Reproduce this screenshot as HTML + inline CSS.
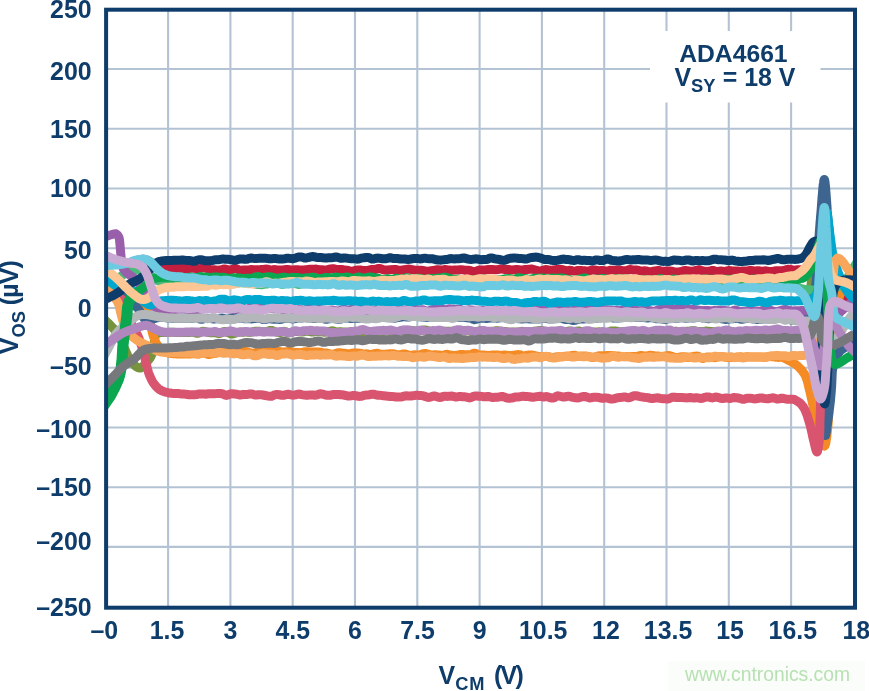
<!DOCTYPE html>
<html lang="en"><head><meta charset="utf-8"><title>ADA4661 VOS vs VCM</title>
<style>html,body{margin:0;padding:0;background:#fff}body{width:869px;height:691px;overflow:hidden}svg{display:block}</style></head>
<body>
<svg width="869" height="691" viewBox="0 0 869 691">
<rect x="0" y="0" width="869" height="691" fill="#ffffff"/>
<rect x="668" y="661" width="197" height="30" fill="#fbfdfa"/>
<path d="M168.10 9.7V607.7M230.40 9.7V607.7M292.70 9.7V607.7M355.00 9.7V607.7M417.30 9.7V607.7M479.60 9.7V607.7M541.90 9.7V607.7M604.20 9.7V607.7M666.50 9.7V607.7M728.80 9.7V607.7M791.10 9.7V607.7M106.1 69.00H855.0M106.1 128.74H855.0M106.1 188.48H855.0M106.1 248.22H855.0M106.1 307.96H855.0M106.1 367.70H855.0M106.1 427.44H855.0M106.1 487.18H855.0M106.1 546.92H855.0" fill="none" stroke="#b4c3d3" stroke-width="2.1"/>
<rect x="650" y="31" width="170.5" height="71.5" fill="#ffffff"/>
<defs><clipPath id="cp"><rect x="106.1" y="9.7" width="748.9" height="598.0"/></clipPath></defs>
<g clip-path="url(#cp)" fill="none" stroke-linecap="round" stroke-linejoin="round">
<path d="M104.0 255.5L106.2 256.4L108.4 257.4L110.6 258.3L112.8 259.2L115.0 260.0L117.3 260.7L119.8 261.5L122.2 262.1L124.5 262.6L126.6 262.8L128.9 262.8L131.1 262.5L133.0 262.0L135.1 261.2L137.0 260.3L139.0 259.8L141.0 259.5L143.0 259.3L145.0 259.5L147.5 260.3L150.0 261.7L151.5 263.0L152.9 264.6L154.4 266.0L156.1 267.2L157.8 268.3L160.0 269.0L161.7 269.2L163.7 269.3L165.9 269.2L168.2 268.9L170.5 268.7L172.8 268.5L175.0 268.3L176.5 268.4L178.0 268.2L179.5 268.2L181.0 268.3L182.5 268.4L184.0 268.6L185.5 268.7L187.0 268.6L188.5 268.5L190.0 268.3L191.5 268.2L193.0 268.1L194.5 268.4L196.0 268.6L197.5 268.7L199.0 268.6L200.5 268.4L202.0 268.1L203.5 268.0L205.0 268.1L206.5 268.4L208.0 268.8L209.5 269.4L211.0 269.8L212.5 269.8L214.0 269.8L215.5 270.0L217.0 270.2L218.5 270.2L220.0 269.9L221.5 269.7L223.0 269.2L224.5 268.9L226.0 269.1L227.5 269.7L229.0 270.0L230.5 269.9L232.0 269.4L233.5 268.9L235.0 268.6L236.5 268.8L238.0 269.5L239.5 270.1L241.0 270.3L242.5 270.1L244.0 270.0L245.5 269.9L247.0 270.0L248.5 269.9L250.0 269.7L251.5 269.6L253.0 269.7L254.5 269.7L256.0 269.7L257.5 269.8L259.0 269.8L260.5 269.6L262.0 269.5L263.5 269.4L265.0 269.2L266.5 269.1L268.0 269.3L269.5 269.7L271.0 269.9L272.5 269.8L274.0 269.6L275.5 269.7L277.0 270.0L278.5 270.1L280.0 270.0L281.5 270.1L283.0 270.0L284.5 269.8L286.0 269.5L287.5 269.5L289.0 269.7L290.5 270.0L292.0 270.1L293.5 269.9L295.0 269.7L296.5 269.7L298.0 269.8L299.5 269.9L301.0 269.9L302.5 269.9L304.0 269.9L305.5 269.8L307.0 269.7L308.5 269.4L310.0 269.2L311.5 269.3L313.0 269.3L314.5 269.2L316.0 269.1L317.5 269.4L319.0 269.7L320.5 269.8L322.0 269.7L323.5 269.9L325.0 270.0L326.5 270.0L328.0 269.6L329.5 269.2L331.0 268.9L332.5 268.7L334.0 268.8L335.5 269.2L337.0 269.5L338.5 269.6L340.0 269.5L341.5 269.5L343.0 269.8L344.5 269.9L346.0 270.1L347.5 270.3L349.0 270.7L350.5 271.2L352.0 271.3L353.5 270.9L355.0 270.4L356.5 270.1L358.0 269.9L359.5 270.0L361.0 270.1L362.5 270.4L364.0 270.5L365.5 270.5L367.0 270.4L368.5 270.2L370.0 269.8L371.5 269.5L373.0 269.5L374.5 269.6L376.0 269.3L377.5 268.7L379.0 268.4L380.5 268.7L382.0 269.3L383.5 269.9L385.0 270.1L386.5 270.0L388.0 269.9L389.5 269.8L391.0 269.7L392.5 269.6L394.0 269.4L395.5 269.4L397.0 269.8L398.5 270.2L400.0 270.3L401.5 270.2L403.0 269.9L404.5 269.6L406.0 269.4L407.5 269.2L409.0 269.1L410.5 269.3L412.0 269.6L413.5 269.9L415.0 270.2L416.5 270.3L418.0 270.2L419.5 270.2L421.0 270.2L422.5 270.4L424.0 270.7L425.5 271.0L427.0 271.2L428.5 271.2L430.0 270.9L431.5 270.6L433.0 270.4L434.5 270.2L436.0 269.9L437.5 269.7L439.0 269.8L440.5 270.1L442.0 270.1L443.5 269.8L445.0 269.5L446.5 269.7L448.0 269.9L449.5 270.0L451.0 270.2L452.5 270.2L454.0 270.1L455.5 270.1L457.0 270.1L458.5 270.0L460.0 269.8L461.5 269.7L463.0 269.9L464.5 270.2L466.0 270.3L467.5 270.2L469.0 270.3L470.5 270.7L472.0 271.3L473.5 271.5L475.0 271.4L476.5 271.0L478.0 270.5L479.5 270.0L481.0 270.0L482.5 270.0L484.0 270.0L485.5 269.9L487.0 269.7L488.5 269.5L490.0 269.4L491.5 269.6L493.0 269.6L494.5 269.7L496.0 269.8L497.5 269.6L499.0 269.3L500.5 269.0L502.0 269.0L503.5 269.2L505.0 269.5L506.5 269.5L508.0 269.5L509.5 269.6L511.0 269.9L512.5 270.0L514.0 269.8L515.5 269.6L517.0 269.5L518.5 269.7L520.0 270.0L521.5 270.1L523.0 269.9L524.5 269.5L526.0 269.4L527.5 269.5L529.0 269.3L530.5 269.1L532.0 269.1L533.5 269.5L535.0 269.9L536.5 270.4L538.0 270.7L539.5 270.9L541.0 270.8L542.5 270.4L544.0 269.9L545.5 269.6L547.0 269.7L548.5 270.0L550.0 270.2L551.5 270.2L553.0 270.1L554.5 269.8L556.0 269.6L557.5 269.5L559.0 269.5L560.5 269.4L562.0 269.5L563.5 269.9L565.0 270.4L566.5 270.8L568.0 270.7L569.5 270.3L571.0 270.4L572.5 270.8L574.0 271.1L575.5 270.9L577.0 270.6L578.5 270.5L580.0 270.6L581.5 270.6L583.0 270.7L584.5 270.8L586.0 271.0L587.5 271.2L589.0 271.0L590.5 270.4L592.0 270.1L593.5 270.0L595.0 270.0L596.5 270.3L598.0 270.6L599.5 270.7L601.0 270.6L602.5 270.6L604.0 270.7L605.5 271.0L607.0 271.1L608.5 270.8L610.0 270.3L611.5 270.2L613.0 270.3L614.5 270.4L616.0 270.1L617.5 269.9L619.0 270.0L620.5 270.3L622.0 270.6L623.5 270.7L625.0 270.7L626.5 270.6L628.0 270.1L629.5 269.6L631.0 269.6L632.5 269.9L634.0 270.0L635.5 269.9L637.0 270.0L638.5 270.4L640.0 270.8L641.5 270.9L643.0 270.9L644.5 270.8L646.0 270.9L647.5 271.3L649.0 271.7L650.5 271.7L652.0 271.5L653.5 271.2L655.0 270.9L656.5 270.7L658.0 270.5L659.5 270.6L661.0 271.0L662.5 271.3L664.0 271.3L665.5 271.2L667.0 270.9L668.5 270.9L670.0 271.0L671.5 271.2L673.0 271.5L674.5 271.9L676.0 272.0L677.5 272.0L679.0 272.0L680.5 271.7L682.0 271.2L683.5 270.7L685.0 270.6L686.5 270.6L688.0 270.8L689.5 271.1L691.0 271.2L692.5 271.2L694.0 271.0L695.5 270.6L697.0 270.1L698.5 269.8L700.0 269.9L701.5 270.4L703.0 271.0L704.5 271.3L706.0 271.3L707.5 271.4L709.0 271.2L710.5 270.8L712.0 270.5L713.5 270.6L715.0 271.1L716.5 271.5L718.0 271.5L719.5 271.2L721.0 271.0L722.5 271.2L724.0 271.4L725.5 271.3L727.0 270.9L728.5 270.5L730.0 270.6L731.5 270.8L733.0 270.9L734.5 271.0L736.0 271.0L737.5 271.1L739.0 271.2L740.5 271.2L742.0 271.1L743.5 271.0L745.0 271.1L746.5 271.2L748.0 270.9L749.5 270.4L751.0 270.3L752.5 270.6L754.0 270.9L755.5 270.9L757.0 270.8L758.5 270.7L760.0 271.0L761.5 271.3L763.0 271.2L764.5 270.9L766.0 270.8L767.5 271.1L769.0 271.4L770.5 271.4L772.0 271.4L773.5 271.3L775.0 271.0L776.5 270.7L778.0 270.7L779.5 270.7L781.0 270.7L782.5 270.7L784.0 270.4L785.5 269.9L787.0 269.5L788.5 269.3L790.0 269.4L791.5 269.7L793.0 270.1L794.5 270.2L796.0 270.0L797.5 269.8L799.0 269.7L800.5 269.7L802.0 269.9L803.5 270.2L805.0 270.1L806.5 270.0L808.0 270.0L810.0 270.0L812.0 269.5L814.1 268.8L816.2 268.2L818.1 267.8L820.0 268.0L821.8 268.7L823.4 269.9L825.0 271.5L826.5 273.2L828.0 275.0L829.1 276.6L830.1 278.4L831.1 280.4L832.1 282.4L833.0 284.5L834.0 286.5L835.0 288.3L836.0 290.0L837.3 291.9L838.5 293.6L839.8 295.2L841.3 296.6L843.0 298.0L844.5 299.0L846.3 299.8L848.1 300.6L850.1 301.3L852.1 301.9L854.1 302.6L856.1 303.3L858.0 304.0" stroke="#c41e3e" stroke-width="9.0"/>
<path d="M104.0 319.0L105.6 320.6L107.3 322.2L108.9 323.8L110.5 325.4L112.0 327.0L113.6 328.7L115.1 330.3L116.6 332.0L118.0 334.0L118.9 335.6L119.8 337.4L120.7 339.2L121.5 341.2L122.3 343.1L123.2 345.1L124.0 347.0L124.8 348.9L125.7 350.9L126.5 352.8L127.3 354.8L128.2 356.7L129.0 358.4L130.0 360.0L131.4 362.0L132.9 363.8L134.5 365.3L136.0 366.5L138.3 367.7L140.5 368.0L142.4 366.9L144.2 365.0L146.0 363.0L147.4 361.5L148.7 359.9L149.9 358.3L151.0 356.5L151.9 354.5L152.5 352.4L153.0 350.2L153.5 348.0L153.8 345.9L154.1 343.8L154.3 341.8L154.5 340.0L154.8 337.8L155.3 336.0L156.2 334.5L157.5 333.3L159.2 332.8L161.4 332.6L164.0 332.5L165.6 332.4L167.4 332.4L169.4 332.3L171.5 332.3L173.7 332.3L176.0 332.4L178.3 332.4L180.6 332.4L182.8 332.4L185.0 332.4L186.5 332.4L188.0 332.4L189.5 332.4L191.0 332.3L192.5 332.3L194.0 332.5L195.5 332.9L197.0 333.3L198.5 333.2L200.0 332.5L201.5 331.7L203.0 331.3L204.5 331.4L206.0 331.8L207.5 332.3L209.0 332.6L210.5 332.8L212.0 332.8L213.5 332.7L215.0 332.6L216.5 332.9L218.0 333.4L219.5 333.6L221.0 333.1L222.5 332.2L224.0 331.4L225.5 331.4L227.0 331.9L228.5 332.8L230.0 333.5L231.5 333.9L233.0 333.9L234.5 333.5L236.0 332.9L237.5 332.4L239.0 332.1L240.5 332.1L242.0 332.2L243.5 332.2L245.0 332.0L246.5 332.0L248.0 332.2L249.5 332.4L251.0 332.2L252.5 331.8L254.0 331.5L255.5 331.3L257.0 331.2L258.5 331.2L260.0 331.3L261.5 331.6L263.0 331.8L264.5 331.8L266.0 331.7L267.5 331.4L269.0 330.8L270.5 330.4L272.0 330.5L273.5 331.1L275.0 331.7L276.5 332.1L278.0 332.4L279.5 332.6L281.0 332.5L282.5 331.8L284.0 331.3L285.5 331.6L287.0 332.6L288.5 333.1L290.0 332.7L291.5 332.1L293.0 331.7L294.5 331.6L296.0 331.4L297.5 331.5L299.0 331.8L300.5 332.0L302.0 332.1L303.5 331.8L305.0 331.4L306.5 331.1L308.0 331.3L309.5 331.6L311.0 331.9L312.5 332.0L314.0 331.9L315.5 331.6L317.0 331.5L318.5 331.4L320.0 331.5L321.5 331.8L323.0 332.1L324.5 332.2L326.0 332.1L327.5 331.8L329.0 331.6L330.5 331.2L332.0 330.8L333.5 330.9L335.0 331.4L336.5 331.9L338.0 332.0L339.5 331.8L341.0 331.7L342.5 331.9L344.0 331.9L345.5 331.9L347.0 332.2L348.5 332.3L350.0 332.0L351.5 331.5L353.0 331.4L354.5 331.6L356.0 331.9L357.5 331.9L359.0 331.7L360.5 331.8L362.0 332.2L363.5 332.4L365.0 332.1L366.5 331.7L368.0 331.6L369.5 331.8L371.0 331.9L372.5 332.0L374.0 332.1L375.5 332.3L377.0 332.5L378.5 332.4L380.0 332.2L381.5 332.0L383.0 331.8L384.5 331.4L386.0 331.0L387.5 330.9L389.0 331.3L390.5 332.1L392.0 332.5L393.5 332.2L395.0 331.7L396.5 331.6L398.0 331.6L399.5 331.4L401.0 331.1L402.5 330.7L404.0 330.3L405.5 330.3L407.0 330.3L408.5 330.5L410.0 330.6L411.5 330.6L413.0 330.6L414.5 330.8L416.0 331.1L417.5 331.1L419.0 331.0L420.5 330.8L422.0 330.3L423.5 329.9L425.0 329.9L426.5 330.2L428.0 330.7L429.5 331.1L431.0 331.4L432.5 331.6L434.0 331.7L435.5 331.8L437.0 331.8L438.5 331.7L440.0 331.5L441.5 331.4L443.0 331.4L444.5 331.3L446.0 331.2L447.5 331.2L449.0 331.2L450.5 331.3L452.0 331.4L453.5 331.4L455.0 331.5L456.5 331.5L458.0 331.5L459.5 331.4L461.0 331.3L462.5 330.9L464.0 330.7L465.5 330.6L467.0 330.7L468.5 330.8L470.0 331.2L471.5 331.6L473.0 331.9L474.5 331.7L476.0 331.6L477.5 331.3L479.0 331.0L480.5 330.6L482.0 330.5L483.5 330.9L485.0 331.5L486.5 331.9L488.0 331.8L489.5 331.5L491.0 331.4L492.5 331.3L494.0 331.1L495.5 330.8L497.0 330.6L498.5 330.8L500.0 331.1L501.5 331.4L503.0 331.4L504.5 331.5L506.0 331.6L507.5 331.9L509.0 332.2L510.5 332.3L512.0 332.1L513.5 331.9L515.0 332.0L516.5 332.0L518.0 332.0L519.5 331.9L521.0 331.5L522.5 331.3L524.0 331.6L525.5 332.0L527.0 332.3L528.5 332.3L530.0 332.1L531.5 331.9L533.0 331.5L534.5 331.1L536.0 330.9L537.5 330.8L539.0 330.6L540.5 330.5L542.0 330.6L543.5 330.9L545.0 331.1L546.5 331.3L548.0 331.6L549.5 331.9L551.0 332.1L552.5 331.9L554.0 331.6L555.5 331.3L557.0 331.1L558.5 331.4L560.0 331.9L561.5 332.1L563.0 332.1L564.5 331.9L566.0 331.6L567.5 331.3L569.0 331.0L570.5 331.1L572.0 331.4L573.5 331.6L575.0 331.5L576.5 331.2L578.0 331.0L579.5 331.1L581.0 331.8L582.5 332.5L584.0 332.4L585.5 331.9L587.0 331.6L588.5 331.6L590.0 331.8L591.5 331.9L593.0 331.9L594.5 331.9L596.0 332.0L597.5 331.9L599.0 331.8L600.5 331.9L602.0 332.2L603.5 332.4L605.0 332.6L606.5 332.7L608.0 332.3L609.5 331.6L611.0 331.0L612.5 331.0L614.0 331.1L615.5 331.1L617.0 331.2L618.5 331.6L620.0 332.0L621.5 331.9L623.0 331.5L624.5 331.6L626.0 331.9L627.5 332.0L629.0 331.6L630.5 331.4L632.0 331.5L633.5 331.4L635.0 331.4L636.5 331.3L638.0 331.2L639.5 331.4L641.0 331.6L642.5 331.8L644.0 331.8L645.5 331.8L647.0 332.1L648.5 332.4L650.0 332.4L651.5 332.1L653.0 331.8L654.5 331.8L656.0 331.8L657.5 331.8L659.0 332.0L660.5 332.3L662.0 332.3L663.5 331.9L665.0 331.5L666.5 331.1L668.0 330.7L669.5 330.5L671.0 330.9L672.5 331.4L674.0 331.4L675.5 331.2L677.0 331.3L678.5 331.6L680.0 331.6L681.5 331.6L683.0 331.7L684.5 331.6L686.0 331.3L687.5 331.2L689.0 331.2L690.5 331.0L692.0 330.8L693.5 330.6L695.0 330.8L696.5 331.3L698.0 331.6L699.5 331.5L701.0 331.6L702.5 331.7L704.0 331.4L705.5 331.1L707.0 331.1L708.5 331.3L710.0 331.5L711.5 331.5L713.0 331.7L714.5 331.7L716.0 331.5L717.5 331.2L719.0 331.3L720.5 331.7L722.0 331.8L723.5 331.7L725.0 331.6L726.5 331.7L728.0 331.6L729.5 331.3L731.0 331.3L732.5 331.6L734.0 332.0L735.5 332.5L737.0 332.8L738.5 332.7L740.0 332.6L741.5 332.8L743.0 333.0L744.5 333.0L746.0 332.7L747.5 332.4L749.0 332.1L750.5 332.0L752.0 331.9L753.5 331.6L755.0 331.3L756.5 331.3L758.0 331.4L759.5 331.3L761.0 331.3L762.5 331.5L764.0 331.6L765.5 331.7L767.0 331.8L768.5 331.8L770.0 331.7L771.5 331.9L773.0 332.6L774.5 333.3L776.0 333.7L777.5 333.8L779.0 333.7L780.5 333.7L782.0 334.0L783.5 334.5L785.0 334.8L786.5 334.9L788.0 334.8L789.5 335.0L791.0 335.6L792.5 336.1L794.0 336.4L795.5 336.6L797.0 336.8L798.5 337.0L800.0 338.0L800.9 336.2L801.8 334.4L802.7 332.6L803.7 330.8L804.5 329.0L805.3 327.0L806.0 325.0L806.5 323.2L806.9 321.3L807.3 319.4L807.6 317.4L807.8 315.3L808.1 313.2L808.3 311.2L808.5 309.1L808.8 307.0L809.0 305.0L809.2 303.0L809.5 301.0L809.6 299.0L809.8 296.9L810.0 294.9L810.2 292.9L810.4 290.9L810.6 288.9L810.8 286.9L811.0 285.0L811.3 282.8L811.6 280.7L811.9 278.5L812.2 276.4L812.5 274.3L812.8 272.2L813.1 270.1L813.5 268.0L813.8 266.0L814.2 263.9L814.5 261.8L814.9 259.7L815.3 257.6L815.7 255.6L816.1 253.6L816.5 251.8L817.0 250.0L817.7 247.5L818.5 244.8L819.3 242.4L820.2 240.7L821.0 240.0L821.8 240.7L822.6 242.4L823.5 244.7L824.3 247.4L825.0 250.0L825.4 251.7L825.9 253.4L826.3 255.3L826.7 257.3L827.0 259.4L827.4 261.5L827.7 263.6L828.0 265.7L828.4 267.8L828.7 269.9L829.0 272.0L829.3 274.1L829.6 276.3L829.8 278.6L830.0 280.8L830.2 283.1L830.4 285.4L830.6 287.5L830.9 289.6L831.2 291.6L831.6 293.4L832.0 295.0L832.8 297.5L833.6 299.6L834.6 301.5L836.0 303.0L837.9 304.1L840.1 304.8L842.5 305.4L845.0 306.0L847.0 306.6L849.2 307.3L851.3 308.0L853.6 308.7L855.8 309.3L858.0 310.0" stroke="#78933e" stroke-width="9.0"/>
<path d="M104.0 269.5L105.6 270.7L107.3 271.9L109.0 273.1L110.7 274.2L112.3 275.4L114.0 276.6L115.5 277.8L117.0 279.0L118.6 280.4L120.2 281.8L121.6 283.2L123.1 284.7L124.5 286.1L126.0 287.5L127.5 288.9L129.0 290.4L130.6 291.9L132.1 293.3L133.6 294.7L135.0 296.0L136.9 297.6L138.7 299.0L140.4 300.5L142.0 302.0L143.7 304.0L145.2 306.1L146.5 308.5L147.3 310.4L147.9 312.6L148.5 314.9L149.0 317.3L149.5 319.7L150.0 322.0L150.5 324.2L151.0 326.4L151.4 328.7L151.9 330.8L152.4 333.0L153.0 335.0L153.7 337.1L154.4 339.1L155.2 341.0L156.1 342.8L157.0 344.5L158.5 346.8L160.1 348.8L162.0 350.5L163.7 351.5L165.6 352.2L167.7 352.8L170.0 353.3L171.6 353.5L173.4 353.7L175.3 353.8L177.3 353.9L179.4 353.9L181.6 353.9L183.7 353.9L185.9 353.9L188.0 353.9L190.0 354.0L191.5 353.8L193.0 353.8L194.5 353.8L196.0 353.9L197.5 354.2L199.0 354.0L200.5 353.5L202.0 352.9L203.5 352.6L205.0 353.0L206.5 353.8L208.0 354.5L209.5 354.5L211.0 354.1L212.5 353.7L214.0 353.4L215.5 353.3L217.0 353.0L218.5 352.6L220.0 352.2L221.5 352.4L223.0 352.6L224.5 352.6L226.0 352.6L227.5 352.3L229.0 352.0L230.5 351.9L232.0 351.7L233.5 351.5L235.0 351.4L236.5 351.3L238.0 351.2L239.5 351.0L241.0 351.0L242.5 351.0L244.0 351.0L245.5 351.2L247.0 351.6L248.5 352.3L250.0 352.7L251.5 353.1L253.0 353.3L254.5 353.0L256.0 352.5L257.5 352.3L259.0 352.4L260.5 352.6L262.0 352.4L263.5 351.9L265.0 351.3L266.5 351.0L268.0 350.9L269.5 351.0L271.0 351.2L272.5 351.5L274.0 351.6L275.5 351.5L277.0 351.3L278.5 351.3L280.0 351.7L281.5 352.1L283.0 352.1L284.5 351.9L286.0 351.8L287.5 351.7L289.0 351.4L290.5 351.5L292.0 352.0L293.5 352.5L295.0 352.5L296.5 352.4L298.0 352.5L299.5 352.7L301.0 352.6L302.5 352.3L304.0 352.0L305.5 351.7L307.0 351.7L308.5 351.8L310.0 352.0L311.5 352.1L313.0 352.0L314.5 352.0L316.0 352.0L317.5 352.0L319.0 351.9L320.5 352.1L322.0 352.6L323.5 352.9L325.0 353.0L326.5 353.0L328.0 353.3L329.5 353.8L331.0 354.3L332.5 354.6L334.0 354.2L335.5 353.5L337.0 353.0L338.5 352.8L340.0 352.8L341.5 353.0L343.0 353.2L344.5 353.3L346.0 353.5L347.5 353.8L349.0 353.8L350.5 353.6L352.0 353.2L353.5 353.0L355.0 353.0L356.5 353.0L358.0 353.1L359.5 353.2L361.0 353.4L362.5 353.8L364.0 354.1L365.5 354.0L367.0 353.8L368.5 354.1L370.0 354.6L371.5 354.5L373.0 354.1L374.5 353.6L376.0 353.3L377.5 353.3L379.0 353.8L380.5 354.3L382.0 354.3L383.5 354.2L385.0 354.2L386.5 354.1L388.0 353.9L389.5 353.8L391.0 353.7L392.5 353.7L394.0 353.9L395.5 354.3L397.0 354.8L398.5 354.9L400.0 354.6L401.5 354.3L403.0 354.0L404.5 353.9L406.0 354.2L407.5 354.7L409.0 355.3L410.5 355.4L412.0 355.2L413.5 354.9L415.0 354.8L416.5 354.9L418.0 355.1L419.5 355.1L421.0 354.6L422.5 353.9L424.0 353.5L425.5 353.5L427.0 353.8L428.5 354.3L430.0 354.8L431.5 355.1L433.0 355.0L434.5 354.8L436.0 354.8L437.5 354.9L439.0 355.0L440.5 355.2L442.0 355.4L443.5 355.2L445.0 354.7L446.5 354.3L448.0 354.5L449.5 354.9L451.0 355.2L452.5 355.3L454.0 355.4L455.5 355.3L457.0 355.1L458.5 354.9L460.0 354.5L461.5 354.4L463.0 354.5L464.5 354.8L466.0 354.8L467.5 354.8L469.0 354.8L470.5 354.6L472.0 354.0L473.5 353.3L475.0 353.2L476.5 353.9L478.0 354.8L479.5 355.2L481.0 355.0L482.5 354.9L484.0 355.0L485.5 355.3L487.0 355.5L488.5 355.6L490.0 355.6L491.5 355.2L493.0 354.9L494.5 354.9L496.0 354.9L497.5 354.9L499.0 355.1L500.5 355.4L502.0 355.3L503.5 355.1L505.0 355.0L506.5 355.3L508.0 355.5L509.5 355.5L511.0 355.4L512.5 355.3L514.0 355.1L515.5 354.9L517.0 354.7L518.5 354.6L520.0 354.8L521.5 355.4L523.0 355.9L524.5 355.8L526.0 355.5L527.5 355.2L529.0 355.0L530.5 354.9L532.0 355.0L533.5 355.3L535.0 355.7L536.5 356.0L538.0 356.3L539.5 356.6L541.0 356.8L542.5 356.8L544.0 356.6L545.5 356.4L547.0 356.5L548.5 356.7L550.0 357.1L551.5 357.3L553.0 357.4L554.5 357.3L556.0 357.0L557.5 356.7L559.0 356.7L560.5 356.7L562.0 356.7L563.5 356.5L565.0 356.3L566.5 356.1L568.0 356.1L569.5 356.0L571.0 355.8L572.5 355.4L574.0 355.2L575.5 355.5L577.0 355.9L578.5 356.2L580.0 356.1L581.5 356.0L583.0 356.1L584.5 356.0L586.0 356.0L587.5 356.3L589.0 356.7L590.5 357.1L592.0 357.5L593.5 357.5L595.0 357.1L596.5 356.5L598.0 356.0L599.5 355.8L601.0 355.7L602.5 355.8L604.0 355.8L605.5 355.7L607.0 355.5L608.5 355.4L610.0 355.4L611.5 355.6L613.0 355.7L614.5 355.8L616.0 355.9L617.5 356.0L619.0 356.1L620.5 356.3L622.0 356.6L623.5 356.8L625.0 356.7L626.5 356.5L628.0 356.6L629.5 356.7L631.0 356.6L632.5 356.6L634.0 356.6L635.5 356.6L637.0 356.4L638.5 355.9L640.0 355.6L641.5 355.5L643.0 355.8L644.5 356.0L646.0 356.1L647.5 355.8L649.0 355.5L650.5 355.2L652.0 355.4L653.5 355.7L655.0 356.0L656.5 356.1L658.0 356.1L659.5 356.2L661.0 356.4L662.5 356.5L664.0 356.2L665.5 355.9L667.0 355.7L668.5 355.6L670.0 355.7L671.5 356.2L673.0 356.9L674.5 357.2L676.0 357.4L677.5 357.4L679.0 357.3L680.5 357.0L682.0 356.8L683.5 356.8L685.0 357.0L686.5 357.3L688.0 357.6L689.5 357.6L691.0 357.1L692.5 356.6L694.0 356.3L695.5 356.2L697.0 356.1L698.5 356.3L700.0 357.2L701.5 358.2L703.0 358.5L704.5 357.9L706.0 357.1L707.5 356.9L709.0 357.0L710.5 357.1L712.0 357.4L713.5 357.6L715.0 357.7L716.5 357.4L718.0 357.0L719.5 356.7L721.0 356.6L722.5 356.8L724.0 357.0L725.5 357.2L727.0 357.4L728.5 357.5L730.0 357.6L731.5 357.6L733.0 357.5L734.5 357.4L736.0 357.2L737.5 357.0L739.0 356.9L740.5 356.8L742.0 357.0L743.5 357.2L745.0 357.0L746.5 356.7L748.0 356.7L749.5 356.9L751.0 357.1L752.5 357.1L754.0 356.9L755.5 356.9L757.0 357.0L758.5 357.1L760.0 357.1L761.5 357.1L763.0 357.0L764.5 357.0L766.0 357.0L767.5 356.8L769.0 356.5L770.5 356.5L772.0 356.7L773.5 356.8L775.0 357.0L776.5 357.2L778.0 357.4L779.5 357.3L781.0 357.2L783.0 357.5L785.0 358.5L786.9 359.4L789.0 360.5L791.0 361.6L793.0 362.7L795.0 364.0L797.0 365.5L798.4 366.8L799.9 368.2L801.3 369.8L802.7 371.4L803.9 373.2L805.0 375.0L805.9 376.9L806.6 378.9L807.3 381.0L807.9 383.2L808.4 385.4L808.9 387.7L809.5 390.0L810.0 391.9L810.4 393.8L810.9 395.8L811.3 397.8L811.8 399.8L812.2 401.9L812.6 403.9L813.1 406.0L813.5 408.0L814.0 410.0L814.5 412.0L815.0 414.0L815.4 416.1L815.9 418.1L816.4 420.2L816.9 422.2L817.4 424.2L817.9 426.2L818.5 428.1L819.0 430.0L819.7 432.3L820.4 434.9L821.1 437.6L821.8 440.2L822.6 442.5L823.3 444.3L823.9 445.6L824.5 446.0L825.0 445.5L825.4 444.4L825.9 442.6L826.2 440.4L826.6 437.8L826.9 435.2L827.2 432.5L827.5 430.0L827.7 428.3L827.9 426.5L828.0 424.6L828.2 422.7L828.3 420.7L828.4 418.7L828.5 416.6L828.6 414.4L828.7 412.3L828.8 410.1L828.9 407.9L829.0 405.7L829.1 403.5L829.2 401.4L829.3 399.2L829.4 397.1L829.5 395.0L829.6 392.9L829.8 390.8L829.9 388.7L830.1 386.6L830.2 384.5L830.4 382.4L830.5 380.3L830.7 378.2L830.8 376.1L831.0 374.0L831.1 371.9L831.3 369.9L831.4 367.8L831.6 365.8L831.7 363.8L831.9 361.9L832.0 360.0L832.2 357.8L832.3 355.6L832.5 353.5L832.6 351.4L832.8 349.3L833.0 347.3L833.1 345.3L833.3 343.2L833.4 341.2L833.6 339.2L833.8 337.1L834.0 335.0L834.2 332.9L834.4 330.8L834.6 328.7L834.8 326.5L835.0 324.3L835.2 322.1L835.4 320.0L835.6 317.8L835.9 315.7L836.1 313.7L836.4 311.7L836.7 309.8L837.0 308.0L837.4 305.5L837.9 303.1L838.3 300.7L838.8 298.4L839.4 296.4L840.1 294.5L841.0 293.0L842.7 291.1L844.7 289.8L847.0 289.0L848.9 288.9L851.1 289.2L853.4 289.8L855.7 290.5L858.0 291.0" stroke="#f58b24" stroke-width="9.0"/>
<path d="M104.0 287.0L106.0 287.8L108.1 288.6L110.2 289.4L112.2 290.3L114.2 291.1L116.0 292.0L118.2 293.2L120.2 294.4L122.1 295.7L124.0 297.0L125.8 298.4L127.5 300.0L129.3 301.5L131.0 303.0L132.8 304.3L134.6 305.6L136.4 307.0L138.0 308.5L139.4 310.5L140.6 312.8L141.8 315.1L143.0 317.0L144.9 319.2L147.0 320.5L149.4 320.2L152.0 319.3L153.9 318.8L155.8 318.2L157.9 317.6L160.0 317.3L162.3 317.3L164.5 317.5L166.9 317.9L169.5 318.1L171.5 318.2L173.7 318.2L175.9 318.3L178.2 318.3L180.5 318.3L182.8 318.3L185.0 318.3L186.5 318.3L188.0 318.2L189.5 318.3L191.0 318.4L192.5 318.4L194.0 318.0L195.5 317.7L197.0 317.8L198.5 318.4L200.0 319.1L201.5 319.3L203.0 319.0L204.5 318.7L206.0 318.4L207.5 318.3L209.0 318.3L210.5 318.6L212.0 318.8L213.5 319.0L215.0 318.9L216.5 318.7L218.0 318.5L219.5 318.3L221.0 318.1L222.5 318.1L224.0 318.4L225.5 318.9L227.0 319.0L228.5 318.8L230.0 318.4L231.5 318.0L233.0 317.6L234.5 317.5L236.0 317.6L237.5 318.0L239.0 318.2L240.5 318.1L242.0 318.1L243.5 318.5L245.0 318.8L246.5 318.7L248.0 318.6L249.5 318.7L251.0 318.9L252.5 318.8L254.0 318.5L255.5 318.4L257.0 318.3L258.5 318.2L260.0 318.3L261.5 318.9L263.0 319.5L264.5 319.6L266.0 319.3L267.5 318.9L269.0 318.7L270.5 318.8L272.0 319.1L273.5 319.3L275.0 319.3L276.5 319.2L278.0 319.4L279.5 319.6L281.0 319.3L282.5 318.9L284.0 318.6L285.5 318.4L287.0 318.2L288.5 318.2L290.0 318.4L291.5 318.8L293.0 318.9L294.5 318.7L296.0 318.3L297.5 317.9L299.0 317.8L300.5 317.9L302.0 318.0L303.5 317.7L305.0 317.3L306.5 317.3L308.0 317.6L309.5 317.9L311.0 318.2L312.5 318.4L314.0 318.4L315.5 318.3L317.0 318.4L318.5 318.3L320.0 318.1L321.5 318.1L323.0 318.5L324.5 319.0L326.0 319.3L327.5 319.2L329.0 318.9L330.5 318.4L332.0 318.2L333.5 318.3L335.0 318.7L336.5 319.1L338.0 319.4L339.5 319.3L341.0 319.0L342.5 318.7L344.0 318.3L345.5 318.0L347.0 317.9L348.5 318.1L350.0 318.4L351.5 318.5L353.0 318.3L354.5 318.1L356.0 318.2L357.5 318.3L359.0 318.2L360.5 318.0L362.0 317.7L363.5 317.5L365.0 317.2L366.5 317.3L368.0 317.4L369.5 317.5L371.0 317.3L372.5 316.9L374.0 316.5L375.5 316.4L377.0 316.8L378.5 317.4L380.0 317.5L381.5 317.1L383.0 316.8L384.5 316.8L386.0 317.0L387.5 317.3L389.0 317.5L390.5 317.6L392.0 317.8L393.5 318.1L395.0 318.2L396.5 317.9L398.0 317.5L399.5 317.4L401.0 317.2L402.5 316.8L404.0 316.6L405.5 316.8L407.0 317.1L408.5 317.1L410.0 316.8L411.5 316.6L413.0 316.6L414.5 316.5L416.0 316.4L417.5 316.5L419.0 316.7L420.5 316.9L422.0 317.1L423.5 317.1L425.0 317.3L426.5 317.4L428.0 317.3L429.5 317.1L431.0 317.0L432.5 317.0L434.0 317.1L435.5 317.4L437.0 317.5L438.5 317.5L440.0 317.6L441.5 317.6L443.0 317.6L444.5 317.5L446.0 317.6L447.5 317.6L449.0 317.5L450.5 317.3L452.0 316.9L453.5 316.7L455.0 316.8L456.5 317.0L458.0 317.3L459.5 317.3L461.0 317.2L462.5 317.2L464.0 317.4L465.5 317.6L467.0 317.8L468.5 317.9L470.0 318.1L471.5 318.4L473.0 319.2L474.5 319.7L476.0 319.4L477.5 318.8L479.0 318.4L480.5 318.3L482.0 318.2L483.5 318.1L485.0 318.3L486.5 318.6L488.0 318.4L489.5 318.0L491.0 317.8L492.5 317.9L494.0 318.0L495.5 318.1L497.0 318.2L498.5 318.1L500.0 317.8L501.5 317.5L503.0 317.4L504.5 317.7L506.0 318.1L507.5 318.0L509.0 317.7L510.5 317.9L512.0 318.4L513.5 318.7L515.0 318.6L516.5 318.6L518.0 318.7L519.5 318.8L521.0 318.9L522.5 319.0L524.0 318.8L525.5 318.5L527.0 318.5L528.5 318.8L530.0 319.1L531.5 319.1L533.0 319.0L534.5 318.8L536.0 318.9L537.5 319.0L539.0 319.0L540.5 318.7L542.0 318.4L543.5 318.2L545.0 318.3L546.5 318.6L548.0 318.8L549.5 319.0L551.0 319.0L552.5 318.8L554.0 318.6L555.5 318.5L557.0 318.2L558.5 317.9L560.0 318.0L561.5 318.4L563.0 318.8L564.5 319.3L566.0 319.5L567.5 319.4L569.0 319.4L570.5 319.8L572.0 320.3L573.5 320.5L575.0 320.3L576.5 319.9L578.0 319.5L579.5 319.1L581.0 318.9L582.5 319.0L584.0 319.1L585.5 318.9L587.0 318.6L588.5 318.5L590.0 318.5L591.5 318.4L593.0 318.2L594.5 318.1L596.0 318.2L597.5 318.2L599.0 317.9L600.5 317.3L602.0 316.5L603.5 316.1L605.0 316.2L606.5 316.5L608.0 316.8L609.5 317.2L611.0 317.6L612.5 317.9L614.0 318.0L615.5 318.1L617.0 318.1L618.5 318.0L620.0 317.8L621.5 317.5L623.0 317.3L624.5 317.1L626.0 317.0L627.5 317.0L629.0 317.0L630.5 317.1L632.0 317.2L633.5 317.2L635.0 317.2L636.5 317.2L638.0 317.2L639.5 317.3L641.0 317.3L642.5 317.4L644.0 317.5L645.5 317.8L647.0 317.9L648.5 317.9L650.0 317.7L651.5 317.5L653.0 317.6L654.5 318.2L656.0 318.7L657.5 318.7L659.0 318.7L660.5 318.8L662.0 319.1L663.5 319.4L665.0 319.4L666.5 319.2L668.0 318.7L669.5 318.2L671.0 318.0L672.5 318.2L674.0 318.4L675.5 318.5L677.0 318.3L678.5 318.0L680.0 317.8L681.5 317.7L683.0 317.7L684.5 318.0L686.0 318.3L687.5 318.2L689.0 317.8L690.5 317.7L692.0 318.0L693.5 318.1L695.0 317.9L696.5 317.5L698.0 317.1L699.5 317.1L701.0 317.5L702.5 318.0L704.0 318.1L705.5 318.2L707.0 318.6L708.5 318.7L710.0 318.5L711.5 318.5L713.0 318.6L714.5 318.6L716.0 318.6L717.5 318.6L719.0 318.6L720.5 318.6L722.0 318.8L723.5 319.1L725.0 319.4L726.5 319.4L728.0 319.2L729.5 318.9L731.0 318.8L732.5 318.8L734.0 318.6L735.5 318.4L737.0 318.3L738.5 318.6L740.0 319.0L741.5 319.3L743.0 319.2L744.5 318.9L746.0 318.6L747.5 318.3L749.0 318.3L750.5 318.6L752.0 318.8L753.5 318.9L755.0 319.1L756.5 319.4L758.0 319.5L759.5 319.5L761.0 319.4L762.5 319.0L764.0 318.7L765.5 318.8L767.0 319.2L768.5 319.3L770.0 319.1L771.5 319.0L773.0 318.9L774.5 318.8L776.0 318.5L777.5 318.1L779.0 317.8L780.5 318.0L782.0 318.3L783.5 318.5L785.0 318.4L786.5 318.4L788.0 318.8L789.5 319.5L791.0 320.0L792.5 320.1L794.0 320.0L795.5 319.9L797.0 320.0L798.5 320.1L800.0 320.2L801.5 320.3L803.0 320.5L805.0 321.0L806.4 319.3L807.8 317.7L809.1 316.0L810.4 314.1L811.5 312.0L812.1 310.4L812.6 308.7L813.0 306.9L813.4 305.0L813.8 303.0L814.0 301.0L814.3 298.8L814.6 296.7L814.8 294.5L815.0 292.2L815.3 290.0L815.5 288.2L815.7 286.3L815.9 284.3L816.0 282.4L816.2 280.4L816.3 278.4L816.5 276.3L816.6 274.2L816.7 272.1L816.8 270.0L816.9 267.9L817.0 265.7L817.2 263.6L817.3 261.4L817.4 259.3L817.6 257.1L817.7 255.0L817.8 253.1L818.0 251.1L818.1 249.1L818.3 247.1L818.4 245.1L818.5 243.1L818.7 241.1L818.8 239.1L819.0 237.0L819.1 235.0L819.3 233.0L819.4 231.0L819.6 228.9L819.7 226.9L819.9 224.9L820.0 222.9L820.2 220.9L820.4 218.9L820.5 216.9L820.7 215.0L820.9 212.7L821.1 210.3L821.3 207.7L821.5 205.0L821.7 202.2L821.9 199.4L822.1 196.7L822.4 194.0L822.6 191.4L822.8 188.9L823.0 186.7L823.2 184.7L823.5 182.9L823.7 181.5L823.9 180.4L824.1 179.7L824.3 179.5L824.5 179.7L824.7 180.4L824.9 181.6L825.1 183.0L825.3 184.8L825.5 186.9L825.7 189.2L825.9 191.7L826.1 194.3L826.3 197.1L826.5 199.8L826.7 202.6L826.9 205.3L827.1 208.0L827.2 210.5L827.4 212.9L827.6 215.0L827.8 217.1L828.0 219.1L828.2 221.0L828.4 222.9L828.6 224.8L828.8 226.7L829.0 228.6L829.2 230.5L829.3 232.5L829.5 234.4L829.7 236.4L829.8 238.5L830.0 240.6L830.1 242.7L830.2 245.0L830.3 246.8L830.3 248.5L830.4 250.4L830.4 252.2L830.5 254.1L830.5 256.1L830.6 258.0L830.6 260.0L830.6 262.0L830.6 264.0L830.6 266.1L830.6 268.2L830.6 270.3L830.6 272.4L830.6 274.5L830.6 276.6L830.6 278.7L830.6 280.9L830.6 283.0L830.5 285.2L830.5 287.3L830.5 289.4L830.4 291.6L830.4 293.7L830.4 295.8L830.3 297.9L830.3 300.0L830.3 302.0L830.2 303.9L830.2 305.9L830.1 307.9L830.1 309.9L830.0 311.9L829.9 313.9L829.9 315.9L829.8 317.9L829.7 319.9L829.7 321.9L829.6 323.9L829.5 326.0L829.4 328.0L829.4 330.0L829.3 332.0L829.2 334.0L829.1 336.1L829.0 338.1L828.9 340.1L828.8 342.1L828.7 344.1L828.6 346.1L828.6 348.1L828.5 350.1L828.4 352.1L828.3 354.1L828.2 356.1L828.1 358.0L828.0 360.0L827.9 362.1L827.8 364.2L827.7 366.4L827.6 368.5L827.4 370.7L827.3 372.9L827.2 375.1L827.0 377.3L826.9 379.5L826.7 381.7L826.6 383.9L826.5 386.1L826.3 388.2L826.2 390.4L826.1 392.5L825.9 394.6L825.8 396.7L825.7 398.7L825.6 400.7L825.5 402.7L825.4 404.6L825.3 406.5L825.2 408.3L825.1 410.1L825.1 411.8L825.0 413.4L825.0 415.0L825.0 417.6L824.9 420.4L824.9 423.2L825.0 425.9L825.0 428.4L825.0 430.7L825.1 432.7L825.2 434.2L825.3 435.1L825.5 435.5L825.7 435.0L826.0 433.6L826.4 431.5L826.7 428.9L827.1 426.2L827.5 423.5L827.8 421.0L828.1 419.0L828.4 417.0L828.7 414.9L829.0 412.7L829.2 410.5L829.5 408.3L829.8 406.2L830.0 404.0L830.3 402.0L830.5 400.0L830.7 397.7L830.9 395.5L831.1 393.4L831.3 391.3L831.4 389.2L831.6 387.1L831.7 385.0L831.8 382.8L831.9 380.5L832.0 378.2L832.1 376.0L832.2 373.8L832.3 371.6L832.6 369.5L833.0 367.0L833.4 364.6L834.0 362.3L834.6 360.1L835.5 358.0L836.5 356.1L837.6 354.3L838.8 352.6L840.3 351.0L842.0 349.5L843.6 348.4L845.4 347.4L847.4 346.4L849.5 345.5L851.6 344.6L853.8 343.8L855.9 342.9L858.0 342.0" stroke="#3d6590" stroke-width="9.0"/>
<path d="M104.0 287.5L106.4 288.2L108.7 289.0L111.0 290.0L112.8 291.1L114.7 292.5L116.4 294.0L118.0 295.5L119.8 297.4L121.5 299.3L123.0 301.5L123.9 303.2L124.8 305.1L125.6 307.1L126.3 309.1L127.0 311.0L127.8 313.3L128.5 315.5L129.2 317.8L130.0 320.0L130.9 322.3L131.9 324.6L132.9 326.8L134.0 329.0L135.0 330.8L136.0 332.5L137.1 334.2L138.0 336.0L138.8 337.8L139.5 339.8L140.2 341.8L140.8 343.9L141.5 346.0L142.1 347.9L142.6 349.8L143.2 351.8L143.7 353.8L144.2 355.9L144.8 358.0L145.3 360.0L145.8 362.1L146.3 364.3L146.9 366.5L147.4 368.7L148.0 370.8L148.6 372.8L149.3 374.7L150.2 376.9L151.2 379.0L152.2 381.0L153.3 382.8L154.5 384.5L156.2 386.5L158.0 388.3L160.0 389.8L161.8 390.8L163.7 391.5L165.8 392.2L168.0 392.7L169.8 393.0L171.8 393.3L173.8 393.4L175.9 393.5L178.0 393.6L180.0 393.8L181.5 393.9L183.0 394.0L184.5 394.1L186.0 394.3L187.5 394.5L189.0 394.7L190.5 394.8L192.0 394.8L193.5 394.7L195.0 394.7L196.5 394.6L198.0 394.2L199.5 393.9L201.0 393.9L202.5 394.0L204.0 394.1L205.5 394.2L207.0 394.0L208.5 393.8L210.0 393.7L211.5 393.7L213.0 393.8L214.5 393.8L216.0 393.6L217.5 393.4L219.0 393.4L220.5 393.5L222.0 393.7L223.5 394.3L225.0 395.1L226.5 395.4L228.0 395.0L229.5 394.2L231.0 393.7L232.5 393.8L234.0 394.0L235.5 394.1L237.0 394.3L238.5 394.7L240.0 395.0L241.5 394.8L243.0 394.5L244.5 394.4L246.0 394.5L247.5 394.4L249.0 394.1L250.5 394.0L252.0 394.1L253.5 394.6L255.0 395.0L256.5 395.0L258.0 394.8L259.5 394.7L261.0 394.7L262.5 394.9L264.0 395.3L265.5 395.5L267.0 395.8L268.5 396.1L270.0 396.3L271.5 396.2L273.0 395.6L274.5 394.9L276.0 394.6L277.5 394.5L279.0 394.7L280.5 395.0L282.0 395.3L283.5 395.3L285.0 394.9L286.5 394.5L288.0 394.3L289.5 394.5L291.0 394.9L292.5 395.2L294.0 395.1L295.5 394.8L297.0 394.4L298.5 394.1L300.0 394.2L301.5 394.6L303.0 394.9L304.5 395.1L306.0 395.2L307.5 395.2L309.0 395.1L310.5 395.0L312.0 394.9L313.5 395.0L315.0 395.2L316.5 395.1L318.0 394.6L319.5 394.0L321.0 393.8L322.5 394.1L324.0 394.6L325.5 395.0L327.0 395.2L328.5 395.2L330.0 395.2L331.5 395.0L333.0 394.6L334.5 394.5L336.0 394.5L337.5 394.4L339.0 394.5L340.5 394.7L342.0 394.8L343.5 395.0L345.0 395.3L346.5 395.7L348.0 396.0L349.5 396.1L351.0 395.9L352.5 395.6L354.0 395.5L355.5 395.7L357.0 396.0L358.5 396.3L360.0 396.4L361.5 396.2L363.0 395.7L364.5 395.3L366.0 395.1L367.5 395.1L369.0 394.9L370.5 394.5L372.0 394.2L373.5 394.2L375.0 394.6L376.5 395.0L378.0 395.2L379.5 395.2L381.0 395.4L382.5 395.7L384.0 395.8L385.5 395.9L387.0 396.2L388.5 396.3L390.0 396.4L391.5 396.5L393.0 396.6L394.5 396.8L396.0 397.0L397.5 397.1L399.0 397.1L400.5 397.1L402.0 396.9L403.5 396.3L405.0 395.9L406.5 395.8L408.0 395.9L409.5 396.0L411.0 396.0L412.5 395.8L414.0 395.6L415.5 395.3L417.0 395.2L418.5 395.4L420.0 395.5L421.5 395.6L423.0 395.8L424.5 396.2L426.0 396.8L427.5 397.3L429.0 397.4L430.5 397.1L432.0 396.6L433.5 396.1L435.0 396.1L436.5 396.5L438.0 397.1L439.5 397.5L441.0 397.3L442.5 396.7L444.0 396.3L445.5 396.2L447.0 396.4L448.5 396.3L450.0 396.2L451.5 396.1L453.0 396.2L454.5 396.7L456.0 397.1L457.5 396.9L459.0 396.5L460.5 396.4L462.0 396.7L463.5 396.8L465.0 396.8L466.5 397.1L468.0 397.6L469.5 397.9L471.0 397.6L472.5 396.8L474.0 396.1L475.5 395.9L477.0 396.0L478.5 396.2L480.0 396.2L481.5 396.4L483.0 396.7L484.5 396.8L486.0 396.7L487.5 396.5L489.0 396.6L490.5 397.0L492.0 397.4L493.5 397.4L495.0 397.3L496.5 397.3L498.0 397.2L499.5 396.9L501.0 396.6L502.5 396.5L504.0 396.8L505.5 397.5L507.0 398.1L508.5 398.2L510.0 398.2L511.5 398.1L513.0 397.8L514.5 397.2L516.0 396.9L517.5 396.9L519.0 396.9L520.5 396.6L522.0 396.3L523.5 396.3L525.0 396.4L526.5 396.5L528.0 396.6L529.5 396.8L531.0 397.0L532.5 397.2L534.0 397.2L535.5 396.9L537.0 396.6L538.5 396.4L540.0 396.3L541.5 396.5L543.0 396.9L544.5 396.9L546.0 396.6L547.5 396.7L549.0 397.2L550.5 397.8L552.0 398.1L553.5 398.0L555.0 397.3L556.5 396.3L558.0 395.8L559.5 396.1L561.0 396.5L562.5 396.9L564.0 397.0L565.5 396.8L567.0 396.4L568.5 396.2L570.0 396.4L571.5 396.9L573.0 397.4L574.5 397.7L576.0 397.8L577.5 397.9L579.0 397.8L580.5 397.3L582.0 396.8L583.5 396.5L585.0 396.5L586.5 396.8L588.0 397.5L589.5 397.9L591.0 397.8L592.5 397.4L594.0 397.2L595.5 397.2L597.0 397.3L598.5 397.4L600.0 397.8L601.5 398.2L603.0 398.3L604.5 398.0L606.0 397.9L607.5 398.1L609.0 398.6L610.5 399.0L612.0 399.1L613.5 398.9L615.0 398.4L616.5 397.9L618.0 397.7L619.5 397.5L621.0 397.4L622.5 397.2L624.0 397.1L625.5 397.1L627.0 397.5L628.5 397.8L630.0 397.6L631.5 396.8L633.0 396.1L634.5 395.7L636.0 395.7L637.5 396.0L639.0 396.4L640.5 396.7L642.0 396.9L643.5 397.2L645.0 397.4L646.5 397.6L648.0 397.7L649.5 398.1L651.0 398.5L652.5 398.5L654.0 398.3L655.5 398.1L657.0 397.8L658.5 397.9L660.0 398.3L661.5 398.6L663.0 398.7L664.5 398.7L666.0 398.9L667.5 399.0L669.0 398.7L670.5 398.0L672.0 397.3L673.5 397.1L675.0 397.3L676.5 397.5L678.0 397.6L679.5 397.6L681.0 397.6L682.5 397.6L684.0 397.7L685.5 397.8L687.0 397.9L688.5 397.7L690.0 397.5L691.5 397.7L693.0 397.9L694.5 398.0L696.0 397.8L697.5 397.8L699.0 398.1L700.5 398.4L702.0 398.3L703.5 397.9L705.0 397.3L706.5 397.0L708.0 396.9L709.5 397.2L711.0 397.7L712.5 397.9L714.0 397.5L715.5 397.1L717.0 397.2L718.5 397.6L720.0 398.1L721.5 398.5L723.0 398.5L724.5 398.2L726.0 398.0L727.5 398.1L729.0 398.4L730.5 398.4L732.0 398.0L733.5 397.6L735.0 397.6L736.5 397.8L738.0 398.0L739.5 398.2L741.0 398.7L742.5 399.2L744.0 399.2L745.5 398.7L747.0 398.3L748.5 398.2L750.0 398.2L751.5 398.4L753.0 398.7L754.5 398.9L756.0 398.8L757.5 398.5L759.0 398.2L760.5 398.0L762.0 397.9L763.5 398.3L765.0 398.6L766.5 398.7L768.0 398.7L769.5 398.5L771.0 398.1L772.5 397.8L774.0 397.9L775.5 398.4L777.0 398.9L778.5 399.0L780.0 398.6L781.5 398.2L783.0 398.3L784.5 398.7L786.0 399.0L787.5 399.2L789.0 399.2L790.5 399.2L792.0 399.2L793.5 399.2L795.0 399.8L797.6 401.3L800.0 403.0L801.6 404.7L803.1 406.6L804.5 409.0L805.3 410.6L806.0 412.4L806.8 414.3L807.5 416.4L808.1 418.5L808.8 420.7L809.4 422.8L810.0 424.8L810.6 427.0L811.1 429.2L811.6 431.4L812.1 433.6L812.5 435.8L813.0 437.9L813.5 440.0L814.1 442.4L814.7 445.0L815.3 447.6L815.9 449.9L816.5 451.4L817.0 452.0L817.5 451.4L817.9 449.9L818.3 447.7L818.7 445.1L819.0 442.5L819.3 440.0L819.5 438.2L819.6 436.3L819.7 434.3L819.8 432.2L819.8 430.1L819.9 428.0L819.9 426.0L819.9 423.9L819.9 421.9L820.0 420.0L820.1 417.8L820.2 415.7L820.2 413.6L820.3 411.6L820.4 409.5L820.4 407.3L820.5 405.0L820.5 403.1L820.6 401.2L820.6 399.1L820.7 397.0L820.7 394.9L820.7 392.7L820.8 390.5L820.8 388.4L820.8 386.2L820.9 384.1L820.9 382.0L821.0 380.0L821.1 377.9L821.1 375.8L821.2 373.7L821.3 371.6L821.4 369.5L821.4 367.5L821.6 365.5L821.7 363.6L821.8 361.8L822.0 360.0L822.2 357.7L822.4 355.5L822.6 353.3L823.0 351.3L823.4 349.5L824.0 348.0L825.7 345.6L828.0 344.0L830.1 343.6L832.5 343.7L835.0 343.5L836.9 343.0L838.8 342.3L840.9 341.4L842.9 340.5L845.0 339.5L846.8 338.6L848.6 337.6L850.5 336.5L852.4 335.4L854.2 334.2L856.1 333.1L858.0 332.0" stroke="#d9546f" stroke-width="9.0"/>
<path d="M104.0 289.0L106.0 287.8L108.0 286.6L110.0 285.4L112.0 284.0L113.6 282.7L115.2 281.3L116.7 279.8L118.3 278.3L120.0 277.0L121.9 275.6L123.8 274.3L125.9 273.0L127.9 271.9L130.0 271.0L132.0 270.4L134.0 270.1L136.1 269.9L138.1 269.8L140.0 270.0L142.1 270.4L144.1 271.1L146.1 271.9L148.0 273.0L149.6 274.2L151.2 275.8L152.7 277.4L154.3 278.9L156.0 280.0L158.1 280.8L160.3 281.4L162.5 281.7L165.0 282.0L166.9 282.2L169.0 282.2L171.2 282.2L173.4 282.2L175.6 282.1L177.8 282.0L180.0 282.0L181.5 282.1L183.0 282.0L184.5 282.0L186.0 282.0L187.5 282.0L189.0 282.1L190.5 282.3L192.0 282.3L193.5 282.2L195.0 282.1L196.5 282.2L198.0 282.5L199.5 282.6L201.0 282.5L202.5 282.4L204.0 282.4L205.5 282.3L207.0 281.9L208.5 281.7L210.0 281.9L211.5 282.2L213.0 282.2L214.5 282.0L216.0 282.0L217.5 282.2L219.0 282.3L220.5 282.3L222.0 282.2L223.5 282.2L225.0 282.1L226.5 282.1L228.0 282.3L229.5 282.7L231.0 283.3L232.5 283.7L234.0 283.7L235.5 283.5L237.0 283.3L238.5 282.9L240.0 282.6L241.5 282.7L243.0 282.9L244.5 283.1L246.0 283.2L247.5 283.3L249.0 283.5L250.5 283.6L252.0 283.6L253.5 283.7L255.0 283.9L256.5 284.3L258.0 284.5L259.5 284.6L261.0 284.7L262.5 284.7L264.0 284.4L265.5 284.1L267.0 284.0L268.5 283.7L270.0 283.2L271.5 283.0L273.0 282.9L274.5 282.9L276.0 282.8L277.5 282.8L279.0 283.3L280.5 284.1L282.0 284.6L283.5 284.2L285.0 283.6L286.5 283.1L288.0 282.9L289.5 282.6L291.0 282.3L292.5 282.4L294.0 282.8L295.5 283.5L297.0 284.1L298.5 284.5L300.0 284.3L301.5 283.7L303.0 283.2L304.5 282.9L306.0 282.8L307.5 282.9L309.0 282.9L310.5 282.8L312.0 282.8L313.5 282.7L315.0 282.6L316.5 282.1L318.0 281.5L319.5 281.3L321.0 281.5L322.5 281.7L324.0 281.9L325.5 282.0L327.0 281.9L328.5 281.9L330.0 282.1L331.5 282.3L333.0 282.6L334.5 282.9L336.0 282.8L337.5 282.6L339.0 282.5L340.5 282.5L342.0 282.4L343.5 282.4L345.0 282.6L346.5 283.0L348.0 283.7L349.5 284.2L351.0 284.1L352.5 283.6L354.0 283.2L355.5 283.1L357.0 282.9L358.5 282.6L360.0 282.7L361.5 283.1L363.0 283.4L364.5 283.4L366.0 283.2L367.5 282.9L369.0 282.9L370.5 283.0L372.0 283.0L373.5 282.8L375.0 282.8L376.5 282.7L378.0 282.7L379.5 282.9L381.0 283.1L382.5 283.4L384.0 283.8L385.5 283.9L387.0 283.9L388.5 284.1L390.0 284.2L391.5 283.8L393.0 283.0L394.5 282.5L396.0 282.6L397.5 282.8L399.0 283.0L400.5 283.3L402.0 283.5L403.5 283.5L405.0 283.5L406.5 283.8L408.0 284.1L409.5 284.3L411.0 284.1L412.5 283.6L414.0 283.1L415.5 282.9L417.0 283.1L418.5 283.6L420.0 283.9L421.5 283.7L423.0 283.3L424.5 283.0L426.0 282.8L427.5 282.9L429.0 283.0L430.5 283.2L432.0 283.5L433.5 283.8L435.0 283.8L436.5 283.6L438.0 283.5L439.5 284.1L441.0 284.9L442.5 285.2L444.0 284.9L445.5 284.4L447.0 284.2L448.5 284.3L450.0 284.3L451.5 283.9L453.0 283.2L454.5 282.5L456.0 282.4L457.5 282.9L459.0 283.3L460.5 283.3L462.0 283.3L463.5 283.1L465.0 283.1L466.5 283.0L468.0 282.9L469.5 283.2L471.0 283.8L472.5 284.1L474.0 284.0L475.5 283.6L477.0 283.2L478.5 283.1L480.0 283.2L481.5 283.3L483.0 283.2L484.5 283.0L486.0 283.0L487.5 283.3L489.0 283.8L490.5 284.4L492.0 284.3L493.5 283.9L495.0 283.5L496.5 283.2L498.0 283.0L499.5 283.1L501.0 283.4L502.5 283.9L504.0 284.5L505.5 284.8L507.0 284.5L508.5 284.0L510.0 283.9L511.5 284.1L513.0 284.4L514.5 284.5L516.0 284.5L517.5 284.2L519.0 283.8L520.5 283.5L522.0 283.4L523.5 283.5L525.0 283.5L526.5 283.1L528.0 282.7L529.5 282.7L531.0 283.1L532.5 283.6L534.0 283.9L535.5 284.1L537.0 284.1L538.5 283.8L540.0 283.8L541.5 284.1L543.0 284.2L544.5 284.0L546.0 283.9L547.5 283.8L549.0 283.9L550.5 284.2L552.0 284.4L553.5 284.4L555.0 284.2L556.5 284.2L558.0 284.5L559.5 284.7L561.0 284.4L562.5 284.1L564.0 284.2L565.5 284.4L567.0 284.6L568.5 284.6L570.0 284.5L571.5 284.3L573.0 284.3L574.5 284.5L576.0 284.6L577.5 284.5L579.0 284.2L580.5 283.9L582.0 283.5L583.5 283.3L585.0 283.2L586.5 282.9L588.0 282.6L589.5 282.6L591.0 282.9L592.5 283.4L594.0 283.9L595.5 284.2L597.0 284.1L598.5 283.8L600.0 283.6L601.5 283.7L603.0 283.9L604.5 284.1L606.0 284.3L607.5 284.5L609.0 284.7L610.5 284.7L612.0 284.9L613.5 285.1L615.0 285.0L616.5 284.7L618.0 284.5L619.5 284.2L621.0 284.1L622.5 284.0L624.0 283.7L625.5 283.7L627.0 283.8L628.5 284.0L630.0 283.9L631.5 283.6L633.0 283.4L634.5 283.4L636.0 283.5L637.5 283.4L639.0 283.2L640.5 283.0L642.0 282.7L643.5 282.6L645.0 282.7L646.5 283.3L648.0 283.8L649.5 284.4L651.0 284.7L652.5 284.4L654.0 284.0L655.5 283.7L657.0 283.7L658.5 283.9L660.0 284.1L661.5 284.2L663.0 284.1L664.5 283.9L666.0 283.9L667.5 283.9L669.0 284.0L670.5 284.1L672.0 284.1L673.5 284.3L675.0 284.7L676.5 285.0L678.0 284.9L679.5 284.7L681.0 284.7L682.5 284.7L684.0 284.5L685.5 284.2L687.0 284.1L688.5 284.2L690.0 284.3L691.5 284.4L693.0 284.2L694.5 284.2L696.0 284.5L697.5 284.8L699.0 285.0L700.5 285.1L702.0 284.9L703.5 284.7L705.0 284.9L706.5 285.5L708.0 286.0L709.5 285.9L711.0 285.4L712.5 284.8L714.0 284.5L715.5 284.4L717.0 284.4L718.5 284.4L720.0 284.6L721.5 284.9L723.0 285.1L724.5 285.1L726.0 284.8L727.5 284.2L729.0 283.9L730.5 283.8L732.0 284.0L733.5 284.1L735.0 284.2L736.5 284.3L738.0 284.3L739.5 284.5L741.0 285.0L742.5 285.3L744.0 285.3L745.5 285.2L747.0 285.3L748.5 285.3L750.0 285.1L751.5 285.2L753.0 285.6L754.5 285.9L756.0 285.9L757.5 286.0L759.0 286.2L760.5 286.2L762.0 286.0L763.5 285.9L765.0 286.0L766.5 286.2L768.0 286.3L769.5 286.5L771.0 286.8L772.5 286.9L774.0 286.8L775.5 286.7L777.0 286.7L778.5 286.8L780.0 286.9L781.5 287.0L783.0 287.1L784.5 287.1L786.0 287.1L787.5 287.2L789.0 287.3L790.5 287.3L792.0 287.1L793.5 287.1L795.0 287.1L797.0 287.5L799.3 288.0L801.6 288.6L803.9 289.1L806.0 289.5L808.1 289.7L810.0 289.8L812.0 290.0L813.9 290.3L815.9 290.6L818.0 290.9L820.0 291.0L822.0 290.8L824.1 290.4L826.1 290.0L828.0 289.5L830.1 289.0L832.0 288.6L834.0 288.0L836.0 287.3L838.1 286.5L840.0 285.5L841.6 284.4L843.1 283.0L844.6 281.6L846.0 280.0L847.3 278.2L848.4 276.2L849.5 274.2L850.7 272.1L851.9 270.1L853.3 268.1L854.6 266.0L855.9 264.0L857.0 262.3L858.6 259.8L860.0 257.6" stroke="#4bbb7a" stroke-width="9.0"/>
<path d="M104.0 237.3L106.4 236.4L108.7 235.5L111.0 234.8L113.7 233.9L116.0 233.8L117.6 235.0L118.8 237.0L119.3 238.7L119.6 240.7L119.8 242.8L120.0 245.0L120.2 247.1L120.4 249.3L120.6 251.5L120.8 253.8L121.0 256.0L121.2 258.3L121.4 260.6L121.6 262.9L121.9 265.1L122.5 267.0L123.7 269.3L125.2 271.2L127.0 273.0L128.6 274.3L130.4 275.5L132.3 276.7L134.0 278.0L135.6 279.6L137.1 281.2L138.5 283.0L140.0 285.0L141.1 286.6L142.3 288.5L143.4 290.4L144.5 292.4L145.7 294.4L146.8 296.2L148.0 298.0L149.4 300.0L150.7 302.0L152.1 303.9L153.5 305.6L155.0 307.0L157.1 308.4L159.3 309.4L162.0 310.0L163.6 310.2L165.4 310.2L167.4 310.2L169.4 310.0L171.5 309.8L173.7 309.6L175.8 309.4L178.0 309.1L180.0 309.0L181.5 308.9L183.0 309.0L184.5 309.1L186.0 309.2L187.5 309.3L189.0 309.4L190.5 309.4L192.0 309.4L193.5 309.4L195.0 309.3L196.5 309.2L198.0 309.4L199.5 309.7L201.0 309.4L202.5 308.8L204.0 308.3L205.5 308.3L207.0 308.4L208.5 308.5L210.0 308.6L211.5 308.8L213.0 308.9L214.5 308.6L216.0 308.2L217.5 308.1L219.0 308.2L220.5 308.1L222.0 307.8L223.5 307.5L225.0 307.7L226.5 308.2L228.0 308.7L229.5 308.9L231.0 308.9L232.5 308.9L234.0 309.1L235.5 309.1L237.0 309.0L238.5 308.9L240.0 308.9L241.5 308.9L243.0 308.9L244.5 309.1L246.0 309.1L247.5 308.8L249.0 308.4L250.5 308.1L252.0 308.2L253.5 308.5L255.0 308.7L256.5 308.7L258.0 308.8L259.5 308.7L261.0 308.3L262.5 307.9L264.0 307.8L265.5 308.0L267.0 308.4L268.5 308.5L270.0 308.3L271.5 308.4L273.0 308.6L274.5 308.7L276.0 308.8L277.5 308.9L279.0 308.8L280.5 309.0L282.0 309.4L283.5 309.5L285.0 309.4L286.5 309.0L288.0 308.6L289.5 308.6L291.0 309.1L292.5 309.4L294.0 309.4L295.5 309.1L297.0 309.0L298.5 309.1L300.0 309.5L301.5 309.9L303.0 310.2L304.5 310.1L306.0 309.7L307.5 309.2L309.0 309.0L310.5 309.3L312.0 309.7L313.5 309.9L315.0 309.8L316.5 309.5L318.0 309.3L319.5 309.4L321.0 309.7L322.5 310.0L324.0 310.2L325.5 310.4L327.0 310.4L328.5 310.4L330.0 310.2L331.5 310.1L333.0 310.1L334.5 310.4L336.0 310.7L337.5 310.9L339.0 310.7L340.5 310.2L342.0 309.6L343.5 309.3L345.0 309.4L346.5 309.8L348.0 310.1L349.5 310.0L351.0 309.5L352.5 309.3L354.0 309.5L355.5 309.7L357.0 309.7L358.5 309.6L360.0 309.6L361.5 309.6L363.0 309.6L364.5 309.5L366.0 309.4L367.5 309.5L369.0 309.8L370.5 310.1L372.0 310.2L373.5 310.2L375.0 310.3L376.5 310.6L378.0 310.8L379.5 310.6L381.0 310.5L382.5 310.3L384.0 310.1L385.5 310.0L387.0 310.0L388.5 310.2L390.0 310.5L391.5 310.7L393.0 310.5L394.5 310.3L396.0 310.1L397.5 310.0L399.0 310.0L400.5 310.1L402.0 310.0L403.5 310.0L405.0 310.0L406.5 309.9L408.0 309.6L409.5 309.1L411.0 309.0L412.5 309.2L414.0 309.3L415.5 309.4L417.0 309.7L418.5 310.0L420.0 309.9L421.5 309.7L423.0 309.8L424.5 310.4L426.0 311.1L427.5 311.2L429.0 310.8L430.5 310.2L432.0 309.7L433.5 309.3L435.0 308.9L436.5 308.5L438.0 308.6L439.5 308.8L441.0 309.0L442.5 309.2L444.0 309.5L445.5 309.7L447.0 309.5L448.5 309.0L450.0 308.8L451.5 308.9L453.0 309.1L454.5 309.5L456.0 309.5L457.5 309.1L459.0 308.9L460.5 309.5L462.0 310.5L463.5 311.0L465.0 310.7L466.5 310.1L468.0 309.8L469.5 309.8L471.0 309.9L472.5 310.2L474.0 310.3L475.5 310.2L477.0 310.2L478.5 310.5L480.0 310.8L481.5 310.7L483.0 310.4L484.5 310.3L486.0 310.3L487.5 310.1L489.0 309.8L490.5 309.8L492.0 310.3L493.5 310.8L495.0 310.9L496.5 310.8L498.0 310.9L499.5 311.0L501.0 311.0L502.5 310.9L504.0 310.8L505.5 310.8L507.0 311.0L508.5 311.1L510.0 311.1L511.5 310.9L513.0 310.4L514.5 310.1L516.0 310.4L517.5 310.8L519.0 310.8L520.5 310.8L522.0 310.8L523.5 310.9L525.0 310.9L526.5 310.7L528.0 310.6L529.5 310.7L531.0 310.8L532.5 310.7L534.0 310.4L535.5 309.8L537.0 309.6L538.5 309.8L540.0 309.9L541.5 309.7L543.0 309.3L544.5 309.3L546.0 309.6L547.5 309.7L549.0 309.9L550.5 310.1L552.0 310.3L553.5 310.3L555.0 310.1L556.5 310.0L558.0 309.9L559.5 309.9L561.0 310.0L562.5 310.1L564.0 310.2L565.5 310.3L567.0 310.5L568.5 310.6L570.0 310.8L571.5 310.7L573.0 310.3L574.5 309.8L576.0 309.7L577.5 310.0L579.0 310.4L580.5 310.5L582.0 310.3L583.5 310.0L585.0 309.6L586.5 309.2L588.0 309.1L589.5 309.3L591.0 309.4L592.5 309.4L594.0 309.5L595.5 309.7L597.0 309.9L598.5 310.0L600.0 310.0L601.5 309.9L603.0 309.7L604.5 309.7L606.0 309.7L607.5 309.8L609.0 309.9L610.5 310.0L612.0 310.4L613.5 310.6L615.0 310.4L616.5 310.4L618.0 310.5L619.5 310.4L621.0 310.2L622.5 310.1L624.0 310.2L625.5 310.4L627.0 310.3L628.5 310.1L630.0 310.2L631.5 310.2L633.0 310.0L634.5 310.0L636.0 310.3L637.5 310.8L639.0 310.9L640.5 310.6L642.0 310.4L643.5 310.3L645.0 310.4L646.5 310.5L648.0 310.5L649.5 310.6L651.0 310.8L652.5 311.1L654.0 311.3L655.5 311.1L657.0 310.4L658.5 309.8L660.0 309.3L661.5 309.1L663.0 309.3L664.5 309.5L666.0 309.5L667.5 309.4L669.0 309.4L670.5 309.4L672.0 309.4L673.5 309.4L675.0 309.3L676.5 309.1L678.0 309.0L679.5 309.0L681.0 308.9L682.5 309.1L684.0 309.5L685.5 309.7L687.0 309.6L688.5 309.3L690.0 309.3L691.5 309.4L693.0 309.5L694.5 309.6L696.0 309.8L697.5 309.9L699.0 310.1L700.5 310.5L702.0 310.7L703.5 310.6L705.0 310.4L706.5 310.4L708.0 310.5L709.5 310.7L711.0 310.8L712.5 310.7L714.0 310.5L715.5 310.5L717.0 310.4L718.5 310.2L720.0 310.2L721.5 310.3L723.0 310.4L724.5 310.3L726.0 310.6L727.5 311.1L729.0 311.5L730.5 311.4L732.0 310.9L733.5 310.4L735.0 310.0L736.5 310.2L738.0 311.0L739.5 311.6L741.0 311.7L742.5 311.4L744.0 311.4L745.5 311.5L747.0 311.3L748.5 310.9L750.0 310.6L751.5 310.6L753.0 310.9L754.5 311.2L756.0 311.2L757.5 311.2L759.0 311.1L760.5 310.9L762.0 310.6L763.5 310.5L765.0 310.4L766.5 310.4L768.0 310.2L769.5 310.1L771.0 310.4L772.5 311.0L774.0 311.3L775.5 311.4L777.0 311.4L778.5 311.2L780.0 310.8L781.5 310.2L783.0 309.8L784.5 309.6L786.0 309.6L787.5 309.9L789.0 310.4L790.5 310.8L792.0 311.0L793.5 311.0L795.0 310.8L796.5 310.8L798.0 310.8L799.5 310.7L801.0 310.6L802.5 310.6L804.0 310.7L805.0 310.5L807.0 310.7L809.0 310.9L811.0 311.1L813.0 311.4L815.0 312.0L817.1 313.0L819.1 314.4L821.1 315.9L823.1 317.2L825.0 318.0L827.5 318.4L829.8 318.4L832.0 318.0L834.3 317.0L836.5 315.5L838.3 314.0L840.1 312.3L842.0 310.5L843.5 309.2L845.0 307.8L846.5 306.5L848.0 305.2L849.7 303.7L851.3 302.2L853.0 300.8L854.7 299.4L856.3 297.9L858.0 296.5" stroke="#9a5fab" stroke-width="9.0"/>
<path d="M104.0 276.0L105.6 277.3L107.1 278.7L108.7 280.2L110.2 281.6L111.8 282.9L113.4 284.0L115.0 285.0L117.0 285.9L119.0 286.5L121.0 287.0L123.0 287.5L125.0 288.0L127.3 288.6L129.6 289.2L131.9 289.9L134.0 291.0L135.5 292.2L136.8 293.7L138.1 295.4L139.3 297.0L140.6 298.6L142.0 300.0L143.9 301.7L145.9 303.2L148.0 304.4L150.0 305.0L151.9 304.6L153.9 303.6L155.9 302.4L158.0 301.5L159.8 301.1L161.8 300.8L163.8 300.7L165.9 300.5L168.0 300.4L170.0 300.2L171.5 300.2L173.0 300.3L174.5 300.4L176.0 300.5L177.5 300.7L179.0 300.8L180.5 300.9L182.0 301.1L183.5 300.9L185.0 300.6L186.5 300.4L188.0 300.6L189.5 300.7L191.0 300.9L192.5 301.0L194.0 301.4L195.5 301.6L197.0 301.2L198.5 300.7L200.0 300.6L201.5 300.8L203.0 300.9L204.5 300.7L206.0 300.5L207.5 300.7L209.0 301.3L210.5 301.6L212.0 301.4L213.5 301.1L215.0 301.0L216.5 300.8L218.0 300.1L219.5 299.5L221.0 299.3L222.5 299.3L224.0 299.3L225.5 299.5L227.0 300.2L228.5 300.9L230.0 300.9L231.5 300.4L233.0 299.9L234.5 299.8L236.0 300.1L237.5 300.3L239.0 300.7L240.5 301.1L242.0 301.1L243.5 300.5L245.0 299.9L246.5 299.6L248.0 299.5L249.5 299.6L251.0 299.9L252.5 300.0L254.0 299.8L255.5 299.4L257.0 299.4L258.5 299.4L260.0 299.5L261.5 299.9L263.0 300.2L264.5 300.4L266.0 300.5L267.5 300.5L269.0 300.6L270.5 300.5L272.0 300.3L273.5 300.2L275.0 300.3L276.5 300.6L278.0 301.0L279.5 300.9L281.0 300.6L282.5 300.5L284.0 300.7L285.5 300.8L287.0 300.8L288.5 301.0L290.0 301.4L291.5 301.4L293.0 301.0L294.5 300.7L296.0 300.6L297.5 300.5L299.0 300.4L300.5 300.2L302.0 300.4L303.5 300.8L305.0 301.2L306.5 301.1L308.0 300.9L309.5 300.7L311.0 300.9L312.5 301.3L314.0 301.5L315.5 301.3L317.0 301.0L318.5 300.9L320.0 301.0L321.5 301.1L323.0 301.0L324.5 300.8L326.0 300.7L327.5 300.7L329.0 300.8L330.5 300.6L332.0 300.4L333.5 300.3L335.0 300.4L336.5 300.7L338.0 301.0L339.5 301.1L341.0 301.1L342.5 301.0L344.0 300.9L345.5 300.9L347.0 300.8L348.5 300.7L350.0 300.7L351.5 301.0L353.0 301.0L354.5 300.9L356.0 301.0L357.5 301.4L359.0 301.5L360.5 301.3L362.0 301.3L363.5 301.5L365.0 301.8L366.5 302.0L368.0 302.1L369.5 301.8L371.0 301.4L372.5 301.1L374.0 301.2L375.5 301.4L377.0 301.4L378.5 301.2L380.0 301.4L381.5 301.8L383.0 302.1L384.5 302.0L386.0 301.7L387.5 301.6L389.0 301.8L390.5 301.9L392.0 301.8L393.5 301.7L395.0 301.6L396.5 301.7L398.0 301.9L399.5 302.0L401.0 301.6L402.5 300.8L404.0 300.4L405.5 300.6L407.0 301.2L408.5 301.7L410.0 301.8L411.5 301.9L413.0 301.6L414.5 301.3L416.0 301.0L417.5 301.0L419.0 301.0L420.5 300.8L422.0 300.3L423.5 299.9L425.0 300.0L426.5 300.5L428.0 300.9L429.5 301.1L431.0 301.0L432.5 300.9L434.0 300.8L435.5 300.8L437.0 300.7L438.5 300.7L440.0 300.7L441.5 300.7L443.0 300.4L444.5 300.0L446.0 299.8L447.5 299.7L449.0 299.5L450.5 299.4L452.0 299.6L453.5 300.0L455.0 300.1L456.5 300.0L458.0 299.9L459.5 300.1L461.0 300.5L462.5 300.8L464.0 300.8L465.5 300.6L467.0 300.5L468.5 300.5L470.0 300.4L471.5 300.1L473.0 300.2L474.5 300.4L476.0 300.6L477.5 300.6L479.0 300.7L480.5 301.0L482.0 301.2L483.5 301.2L485.0 301.2L486.5 301.4L488.0 301.7L489.5 302.0L491.0 301.9L492.5 301.6L494.0 301.3L495.5 301.2L497.0 301.2L498.5 301.3L500.0 301.5L501.5 301.6L503.0 301.6L504.5 301.2L506.0 301.1L507.5 301.3L509.0 301.8L510.5 302.2L512.0 302.5L513.5 302.6L515.0 302.5L516.5 302.4L518.0 302.9L519.5 303.6L521.0 304.0L522.5 303.8L524.0 303.2L525.5 302.8L527.0 302.6L528.5 302.6L530.0 302.6L531.5 302.3L533.0 301.8L534.5 301.4L536.0 301.4L537.5 301.7L539.0 301.9L540.5 301.8L542.0 301.5L543.5 301.3L545.0 301.5L546.5 302.1L548.0 302.9L549.5 303.5L551.0 303.4L552.5 302.9L554.0 302.6L555.5 302.3L557.0 302.0L558.5 301.9L560.0 302.1L561.5 302.2L563.0 302.4L564.5 302.4L566.0 302.2L567.5 302.0L569.0 302.1L570.5 302.2L572.0 302.0L573.5 301.6L575.0 301.4L576.5 301.7L578.0 302.1L579.5 302.3L581.0 302.3L582.5 302.2L584.0 302.1L585.5 301.9L587.0 301.7L588.5 301.6L590.0 301.5L591.5 301.6L593.0 301.8L594.5 302.0L596.0 302.3L597.5 302.4L599.0 302.1L600.5 301.8L602.0 301.6L603.5 301.4L605.0 301.2L606.5 301.1L608.0 301.1L609.5 301.1L611.0 301.0L612.5 301.0L614.0 301.0L615.5 301.1L617.0 301.2L618.5 301.1L620.0 301.0L621.5 301.1L623.0 301.6L624.5 302.0L626.0 302.2L627.5 302.2L629.0 302.2L630.5 302.3L632.0 302.1L633.5 301.6L635.0 301.4L636.5 301.6L638.0 301.9L639.5 301.9L641.0 301.7L642.5 301.8L644.0 302.1L645.5 302.3L647.0 302.2L648.5 301.8L650.0 301.4L651.5 301.1L653.0 301.0L654.5 301.0L656.0 301.0L657.5 300.9L659.0 300.9L660.5 300.9L662.0 300.7L663.5 300.7L665.0 300.7L666.5 300.5L668.0 300.5L669.5 300.5L671.0 300.7L672.5 300.6L674.0 300.3L675.5 300.2L677.0 300.6L678.5 300.8L680.0 300.6L681.5 300.5L683.0 300.6L684.5 300.8L686.0 300.9L687.5 300.7L689.0 300.3L690.5 299.9L692.0 300.0L693.5 300.5L695.0 300.9L696.5 300.9L698.0 300.5L699.5 300.0L701.0 299.8L702.5 300.1L704.0 300.5L705.5 300.5L707.0 300.3L708.5 300.2L710.0 300.3L711.5 300.4L713.0 300.6L714.5 300.7L716.0 300.7L717.5 300.6L719.0 300.7L720.5 301.0L722.0 301.0L723.5 300.9L725.0 300.9L726.5 301.0L728.0 300.9L729.5 300.7L731.0 300.3L732.5 299.9L734.0 299.9L735.5 300.3L737.0 300.8L738.5 301.3L740.0 301.6L741.5 301.8L743.0 301.8L744.5 301.9L746.0 302.1L747.5 302.4L749.0 302.5L750.5 302.4L752.0 302.4L753.5 302.4L755.0 302.2L756.5 301.9L758.0 301.5L759.5 301.2L761.0 301.4L762.5 301.8L764.0 302.3L765.5 302.7L767.0 302.7L768.5 302.1L770.0 301.5L771.5 301.1L773.0 300.9L774.5 300.7L776.0 300.7L777.5 300.7L779.0 300.5L780.5 300.2L782.0 300.4L783.5 300.7L785.0 301.0L786.5 301.0L788.0 300.8L789.5 300.7L791.0 300.7L792.5 300.8L794.0 300.9L795.5 300.9L797.0 300.7L798.5 300.8L800.0 300.8L801.5 300.7L803.0 300.5L804.5 300.2L806.0 300.0L807.5 300.0L809.0 300.1L810.5 300.1L812.0 300.0L813.3 298.4L814.7 296.8L815.9 295.1L817.0 293.0L817.5 291.5L817.9 289.8L818.3 287.9L818.6 285.9L818.8 283.8L819.0 281.6L819.2 279.3L819.4 277.0L819.6 274.7L819.8 272.3L820.0 270.0L820.2 268.1L820.4 266.2L820.6 264.2L820.7 262.1L820.9 260.0L821.1 257.9L821.2 255.7L821.4 253.6L821.5 251.4L821.7 249.3L821.9 247.1L822.0 245.0L822.2 242.9L822.4 240.8L822.6 238.8L822.8 236.9L823.0 235.0L823.3 232.6L823.6 229.9L823.9 227.1L824.2 224.3L824.5 221.6L824.9 219.1L825.2 216.8L825.5 214.8L825.9 213.3L826.2 212.3L826.5 212.0L826.8 212.4L827.1 213.4L827.5 215.0L827.8 217.0L828.1 219.4L828.4 222.1L828.7 224.8L829.1 227.6L829.4 230.3L829.7 232.8L830.0 235.0L830.3 237.1L830.6 239.1L830.8 241.2L831.1 243.2L831.4 245.2L831.6 247.2L831.9 249.2L832.2 251.1L832.6 253.1L833.0 255.0L833.5 257.2L834.1 259.4L834.7 261.6L835.3 263.7L835.9 265.8L836.6 267.9L837.3 270.0L838.0 272.0L838.8 274.1L839.6 276.2L840.4 278.3L841.3 280.3L842.2 282.3L843.1 284.2L844.0 286.0L845.1 288.0L846.2 289.9L847.4 291.7L848.6 293.4L850.0 295.0L851.5 296.4L853.0 297.6L854.7 298.7L856.4 299.8L858.0 301.0" stroke="#00a7ce" stroke-width="9.0"/>
<path d="M104.0 289.0L106.0 290.3L108.1 291.6L110.0 293.0L111.6 294.4L113.1 295.9L114.5 297.5L116.0 299.5L117.3 301.6L118.5 304.0L119.1 305.8L119.6 307.8L120.1 309.9L120.5 312.0L121.0 314.0L121.5 316.0L122.1 318.0L122.6 320.1L123.3 322.1L124.0 324.0L124.8 325.9L125.8 327.8L126.8 329.7L127.9 331.4L129.0 333.0L130.8 335.1L132.7 336.9L134.7 338.5L136.4 339.8L138.2 340.9L140.0 342.0L141.9 343.0L144.0 344.0L146.0 345.0L147.7 346.0L149.5 347.0L151.2 348.1L153.0 349.0L155.2 350.1L157.4 351.0L160.0 351.8L161.8 352.1L163.8 352.3L166.0 352.4L168.3 352.4L170.5 352.4L172.8 352.4L175.0 352.5L177.1 352.6L179.3 352.7L181.4 352.7L183.6 352.8L185.7 352.9L187.9 352.9L190.0 353.0L191.5 352.9L193.0 353.0L194.5 353.3L196.0 353.4L197.5 353.4L199.0 353.3L200.5 353.2L202.0 353.2L203.5 353.2L205.0 352.8L206.5 352.4L208.0 352.3L209.5 352.6L211.0 352.9L212.5 352.9L214.0 352.8L215.5 352.6L217.0 352.4L218.5 352.2L220.0 352.4L221.5 352.8L223.0 353.2L224.5 353.3L226.0 353.1L227.5 353.0L229.0 353.1L230.5 353.3L232.0 353.6L233.5 353.9L235.0 353.7L236.5 353.4L238.0 353.5L239.5 354.0L241.0 354.5L242.5 354.7L244.0 354.7L245.5 354.6L247.0 354.3L248.5 354.1L250.0 354.3L251.5 354.8L253.0 355.4L254.5 355.8L256.0 355.8L257.5 355.5L259.0 354.9L260.5 354.2L262.0 353.8L263.5 353.7L265.0 353.8L266.5 354.0L268.0 354.3L269.5 354.5L271.0 354.3L272.5 354.2L274.0 354.6L275.5 355.4L277.0 355.6L278.5 355.2L280.0 354.6L281.5 354.1L283.0 353.9L284.5 353.9L286.0 353.8L287.5 353.8L289.0 354.1L290.5 354.6L292.0 355.0L293.5 355.0L295.0 354.9L296.5 354.7L298.0 354.4L299.5 354.3L301.0 354.5L302.5 354.8L304.0 355.0L305.5 355.4L307.0 355.6L308.5 355.4L310.0 355.0L311.5 354.9L313.0 355.0L314.5 355.0L316.0 354.8L317.5 354.8L319.0 355.1L320.5 355.2L322.0 355.1L323.5 354.9L325.0 354.8L326.5 354.9L328.0 354.9L329.5 354.8L331.0 354.7L332.5 355.0L334.0 355.5L335.5 356.1L337.0 356.2L338.5 355.8L340.0 355.6L341.5 355.8L343.0 356.0L344.5 356.1L346.0 356.2L347.5 356.5L349.0 356.6L350.5 356.5L352.0 356.1L353.5 355.9L355.0 356.0L356.5 356.2L358.0 356.1L359.5 355.6L361.0 355.1L362.5 355.0L364.0 355.3L365.5 355.8L367.0 356.3L368.5 356.5L370.0 356.5L371.5 356.3L373.0 356.2L374.5 356.2L376.0 356.2L377.5 356.1L379.0 355.9L380.5 355.9L382.0 355.9L383.5 355.8L385.0 355.7L386.5 355.7L388.0 355.9L389.5 355.9L391.0 355.7L392.5 355.5L394.0 355.4L395.5 355.7L397.0 356.0L398.5 356.2L400.0 356.2L401.5 356.3L403.0 356.4L404.5 356.5L406.0 356.5L407.5 356.4L409.0 356.5L410.5 357.0L412.0 357.5L413.5 357.7L415.0 357.4L416.5 357.1L418.0 357.0L419.5 356.8L421.0 356.7L422.5 357.0L424.0 357.3L425.5 357.1L427.0 356.6L428.5 356.2L430.0 356.1L431.5 356.3L433.0 356.6L434.5 356.8L436.0 356.9L437.5 357.2L439.0 357.5L440.5 357.4L442.0 357.2L443.5 356.9L445.0 357.0L446.5 357.6L448.0 358.4L449.5 358.6L451.0 358.2L452.5 357.9L454.0 358.0L455.5 358.2L457.0 358.2L458.5 358.1L460.0 358.4L461.5 358.6L463.0 358.5L464.5 358.3L466.0 358.1L467.5 358.0L469.0 357.8L470.5 357.5L472.0 357.3L473.5 357.4L475.0 357.4L476.5 357.3L478.0 356.9L479.5 356.7L481.0 356.9L482.5 357.2L484.0 357.1L485.5 357.1L487.0 357.2L488.5 357.3L490.0 357.3L491.5 357.3L493.0 357.5L494.5 357.6L496.0 357.4L497.5 357.2L499.0 357.5L500.5 358.0L502.0 358.4L503.5 358.6L505.0 358.5L506.5 358.1L508.0 357.7L509.5 357.8L511.0 358.4L512.5 359.1L514.0 359.4L515.5 359.3L517.0 358.8L518.5 358.7L520.0 358.7L521.5 358.4L523.0 358.0L524.5 357.8L526.0 358.1L527.5 358.2L529.0 358.0L530.5 357.5L532.0 357.2L533.5 357.0L535.0 356.9L536.5 357.0L538.0 357.4L539.5 357.7L541.0 357.6L542.5 357.1L544.0 356.6L545.5 356.3L547.0 356.4L548.5 356.8L550.0 357.2L551.5 357.7L553.0 358.0L554.5 358.0L556.0 357.8L557.5 357.5L559.0 357.1L560.5 356.9L562.0 356.8L563.5 356.7L565.0 356.6L566.5 356.6L568.0 356.6L569.5 356.6L571.0 356.8L572.5 357.1L574.0 357.0L575.5 356.8L577.0 356.6L578.5 356.6L580.0 356.6L581.5 356.6L583.0 356.8L584.5 356.8L586.0 356.6L587.5 356.6L589.0 356.7L590.5 356.8L592.0 356.9L593.5 357.0L595.0 356.9L596.5 356.9L598.0 357.2L599.5 357.7L601.0 358.1L602.5 358.2L604.0 358.1L605.5 357.9L607.0 357.8L608.5 357.7L610.0 357.2L611.5 356.5L613.0 356.2L614.5 356.4L616.0 356.8L617.5 357.2L619.0 357.2L620.5 356.9L622.0 356.5L623.5 356.4L625.0 356.6L626.5 356.8L628.0 356.8L629.5 356.9L631.0 357.2L632.5 357.7L634.0 357.9L635.5 357.9L637.0 358.2L638.5 358.5L640.0 358.3L641.5 357.8L643.0 357.4L644.5 357.2L646.0 357.2L647.5 357.2L649.0 357.0L650.5 357.0L652.0 357.2L653.5 357.4L655.0 357.2L656.5 356.9L658.0 356.9L659.5 357.0L661.0 356.8L662.5 356.6L664.0 356.7L665.5 357.0L667.0 357.3L668.5 357.6L670.0 358.0L671.5 358.0L673.0 358.1L674.5 358.2L676.0 358.3L677.5 358.3L679.0 358.3L680.5 358.2L682.0 358.1L683.5 357.7L685.0 357.0L686.5 356.7L688.0 356.9L689.5 357.2L691.0 357.4L692.5 357.7L694.0 358.0L695.5 358.0L697.0 357.8L698.5 357.6L700.0 357.5L701.5 357.5L703.0 357.6L704.5 357.7L706.0 357.7L707.5 357.8L709.0 357.8L710.5 357.6L712.0 357.2L713.5 356.6L715.0 356.2L716.5 356.3L718.0 356.6L719.5 356.8L721.0 356.6L722.5 356.6L724.0 356.7L725.5 356.9L727.0 357.1L728.5 356.9L730.0 356.7L731.5 356.8L733.0 357.3L734.5 357.7L736.0 357.4L737.5 357.0L739.0 357.1L740.5 357.5L742.0 357.8L743.5 357.9L745.0 357.7L746.5 357.3L748.0 357.0L749.5 356.8L751.0 356.9L752.5 357.1L754.0 357.1L755.5 357.0L757.0 357.0L758.5 356.9L760.0 356.9L761.5 357.1L763.0 357.4L764.5 357.5L766.0 357.3L767.5 357.1L769.0 356.6L770.5 356.0L772.0 355.7L773.5 355.7L775.0 355.6L776.5 355.4L778.0 355.4L779.5 355.6L781.0 355.8L782.5 355.8L784.0 355.7L785.5 355.8L787.0 356.3L788.5 356.5L790.0 356.2L791.5 355.6L793.0 355.4L794.5 355.5L796.0 355.7L797.5 355.7L799.0 355.7L800.0 355.5L802.1 355.4L804.2 355.4L806.0 355.0L807.9 353.8L809.5 352.0L810.5 350.0L811.3 347.6L812.0 345.0L812.5 342.9L813.0 340.7L813.5 338.4L814.0 336.2L814.5 334.0L815.1 331.6L815.6 329.3L816.2 327.1L817.0 325.0L818.2 322.8L819.5 320.8L821.0 319.0L822.6 317.7L824.4 316.5L826.0 315.0L827.2 313.1L828.3 311.0L829.2 308.6L830.0 306.0L830.5 304.2L830.9 302.4L831.2 300.4L831.5 298.4L831.8 296.3L832.1 294.2L832.3 292.1L832.5 290.0L832.7 288.0L832.8 286.0L832.9 283.9L833.0 281.8L833.1 279.7L833.1 277.6L833.2 275.7L833.3 273.8L833.5 272.0L833.7 269.7L833.9 267.5L834.2 265.5L834.5 263.6L835.0 262.0L836.1 259.5L837.5 258.0L839.2 258.5L841.0 260.0L842.3 261.4L843.6 263.1L845.0 265.0L846.1 266.6L847.3 268.3L848.5 270.1L849.7 271.8L851.0 273.5L852.3 275.1L853.7 276.6L855.2 278.0L856.6 279.5L858.0 281.0" stroke="#f7a65b" stroke-width="9.0"/>
<path d="M104.0 356.0L105.0 354.2L106.0 352.3L107.0 350.5L108.0 348.7L109.0 346.8L110.0 345.0L111.0 343.1L111.9 341.2L112.8 339.3L113.8 337.5L114.9 335.7L116.0 334.0L117.5 332.2L119.0 330.5L120.7 328.9L122.4 327.4L124.0 326.0L125.8 324.5L127.6 323.1L129.3 321.8L131.0 320.5L132.7 319.0L134.4 317.7L136.0 316.5L138.2 315.4L140.5 314.7L143.2 314.4L146.0 314.5L148.0 314.7L149.9 315.1L152.0 315.5L153.9 315.9L155.9 316.3L157.9 316.7L160.0 317.0L162.3 317.3L164.5 317.6L166.9 317.8L169.5 318.0L171.5 318.1L173.7 318.1L175.9 318.2L178.2 318.2L180.5 318.2L182.8 318.2L185.0 318.2L186.5 318.2L188.0 318.2L189.5 318.2L191.0 318.2L192.5 318.2L194.0 318.2L195.5 318.3L197.0 318.2L198.5 318.1L200.0 318.1L201.5 318.1L203.0 318.1L204.5 318.2L206.0 318.5L207.5 318.7L209.0 318.6L210.5 318.3L212.0 317.9L213.5 317.7L215.0 317.8L216.5 318.3L218.0 318.9L219.5 319.3L221.0 319.6L222.5 319.8L224.0 319.7L225.5 319.3L227.0 319.1L228.5 319.1L230.0 319.3L231.5 319.6L233.0 319.6L234.5 319.3L236.0 318.9L237.5 318.5L239.0 318.0L240.5 317.7L242.0 317.7L243.5 318.0L245.0 318.3L246.5 318.4L248.0 318.3L249.5 318.0L251.0 317.5L252.5 317.2L254.0 317.3L255.5 317.6L257.0 317.7L258.5 317.6L260.0 317.7L261.5 318.3L263.0 318.8L264.5 318.9L266.0 318.6L267.5 318.2L269.0 317.9L270.5 317.9L272.0 317.9L273.5 317.8L275.0 317.8L276.5 318.0L278.0 318.2L279.5 318.2L281.0 318.1L282.5 318.1L284.0 318.1L285.5 318.0L287.0 318.0L288.5 318.1L290.0 318.2L291.5 318.3L293.0 318.3L294.5 317.8L296.0 317.3L297.5 317.3L299.0 317.7L300.5 317.8L302.0 317.7L303.5 317.6L305.0 317.9L306.5 318.3L308.0 318.5L309.5 318.4L311.0 318.2L312.5 318.1L314.0 318.1L315.5 318.1L317.0 318.2L318.5 318.5L320.0 318.6L321.5 318.5L323.0 318.3L324.5 318.0L326.0 317.9L327.5 317.9L329.0 318.0L330.5 318.4L332.0 318.7L333.5 318.8L335.0 318.8L336.5 318.9L338.0 319.0L339.5 318.9L341.0 318.7L342.5 318.5L344.0 318.4L345.5 318.0L347.0 317.4L348.5 316.9L350.0 317.0L351.5 317.4L353.0 317.6L354.5 317.3L356.0 317.1L357.5 317.3L359.0 317.6L360.5 317.9L362.0 318.3L363.5 318.7L365.0 318.9L366.5 319.0L368.0 319.0L369.5 318.8L371.0 318.4L372.5 318.3L374.0 318.6L375.5 318.8L377.0 318.6L378.5 318.3L380.0 317.9L381.5 317.5L383.0 317.3L384.5 317.4L386.0 317.8L387.5 318.1L389.0 318.3L390.5 318.3L392.0 318.0L393.5 317.7L395.0 317.5L396.5 317.2L398.0 316.7L399.5 316.1L401.0 315.6L402.5 315.4L404.0 315.6L405.5 315.8L407.0 316.1L408.5 316.4L410.0 316.3L411.5 316.4L413.0 316.4L414.5 316.4L416.0 316.3L417.5 316.4L419.0 316.6L420.5 316.7L422.0 316.7L423.5 316.8L425.0 316.8L426.5 316.5L428.0 316.5L429.5 316.9L431.0 317.2L432.5 317.3L434.0 317.3L435.5 317.4L437.0 317.4L438.5 317.5L440.0 317.5L441.5 317.4L443.0 317.4L444.5 317.5L446.0 317.5L447.5 317.4L449.0 317.5L450.5 318.0L452.0 318.4L453.5 318.3L455.0 317.8L456.5 317.1L458.0 316.6L459.5 316.5L461.0 316.5L462.5 316.4L464.0 316.4L465.5 316.5L467.0 316.6L468.5 316.7L470.0 316.7L471.5 316.5L473.0 316.3L474.5 316.5L476.0 316.9L477.5 317.2L479.0 317.0L480.5 316.8L482.0 316.8L483.5 316.9L485.0 316.7L486.5 316.4L488.0 316.3L489.5 316.5L491.0 316.8L492.5 317.3L494.0 317.6L495.5 317.5L497.0 317.3L498.5 317.2L500.0 317.3L501.5 317.5L503.0 317.8L504.5 318.1L506.0 318.4L507.5 318.9L509.0 319.4L510.5 319.7L512.0 319.5L513.5 318.9L515.0 318.5L516.5 318.4L518.0 318.4L519.5 318.3L521.0 318.0L522.5 317.9L524.0 318.0L525.5 318.1L527.0 317.8L528.5 317.7L530.0 317.8L531.5 318.1L533.0 318.4L534.5 318.8L536.0 319.2L537.5 319.2L539.0 318.8L540.5 318.4L542.0 318.1L543.5 318.0L545.0 317.9L546.5 317.8L548.0 318.1L549.5 318.7L551.0 319.2L552.5 319.4L554.0 319.2L555.5 319.0L557.0 318.8L558.5 318.4L560.0 317.9L561.5 317.5L563.0 317.3L564.5 317.4L566.0 317.8L567.5 318.3L569.0 318.7L570.5 318.5L572.0 318.0L573.5 317.7L575.0 318.1L576.5 318.7L578.0 318.8L579.5 318.4L581.0 317.6L582.5 317.2L584.0 317.4L585.5 318.0L587.0 318.6L588.5 319.2L590.0 319.4L591.5 319.2L593.0 318.8L594.5 318.4L596.0 318.2L597.5 318.0L599.0 318.2L600.5 318.4L602.0 318.3L603.5 318.0L605.0 318.0L606.5 318.2L608.0 318.2L609.5 317.9L611.0 317.3L612.5 317.0L614.0 317.2L615.5 317.6L617.0 317.6L618.5 317.6L620.0 317.9L621.5 318.1L623.0 317.7L624.5 317.3L626.0 317.3L627.5 317.4L629.0 317.5L630.5 317.7L632.0 317.7L633.5 317.3L635.0 317.0L636.5 316.9L638.0 316.9L639.5 316.8L641.0 316.7L642.5 317.1L644.0 317.3L645.5 317.0L647.0 316.6L648.5 316.4L650.0 316.7L651.5 317.3L653.0 317.8L654.5 318.0L656.0 318.1L657.5 318.2L659.0 318.5L660.5 318.8L662.0 319.0L663.5 318.9L665.0 318.5L666.5 318.4L668.0 318.6L669.5 318.9L671.0 318.8L672.5 318.5L674.0 318.3L675.5 318.2L677.0 318.1L678.5 317.8L680.0 317.7L681.5 317.8L683.0 317.8L684.5 317.7L686.0 317.8L687.5 317.9L689.0 317.8L690.5 317.8L692.0 318.0L693.5 318.0L695.0 317.7L696.5 317.3L698.0 317.0L699.5 317.0L701.0 317.5L702.5 318.0L704.0 318.2L705.5 318.1L707.0 317.9L708.5 317.8L710.0 318.1L711.5 318.3L713.0 318.6L714.5 318.8L716.0 319.0L717.5 318.8L719.0 318.4L720.5 318.1L722.0 317.9L723.5 317.8L725.0 317.7L726.5 317.6L728.0 317.8L729.5 318.3L731.0 318.6L732.5 318.3L734.0 317.9L735.5 317.7L737.0 317.7L738.5 317.5L740.0 317.5L741.5 317.8L743.0 318.1L744.5 318.3L746.0 318.2L747.5 318.2L749.0 318.4L750.5 318.7L752.0 318.9L753.5 318.8L755.0 318.5L756.5 318.4L758.0 318.6L759.5 319.0L761.0 319.2L762.5 319.3L764.0 319.2L765.5 319.4L767.0 319.6L768.5 319.6L770.0 319.6L771.5 319.6L773.0 319.6L774.5 319.6L776.0 319.2L777.5 318.6L779.0 318.1L780.5 318.0L782.0 318.8L783.5 319.8L785.0 320.3L786.5 320.0L788.0 319.5L789.5 319.3L791.0 319.6L792.5 320.0L794.0 320.2L795.5 320.4L797.0 320.8L798.5 321.0L800.0 320.9L801.5 320.8L803.0 320.9L804.5 321.0L806.0 321.0L807.5 320.9L809.0 321.0L810.5 321.0L812.0 321.5L813.2 323.2L814.4 324.8L815.7 326.4L816.9 328.1L818.0 330.0L818.9 331.8L819.7 333.8L820.5 336.0L821.2 338.1L822.1 340.1L823.0 341.7L824.0 343.0L825.9 344.3L828.0 345.0L830.0 345.0L831.6 344.2L833.1 342.7L834.6 340.8L836.0 339.0L837.2 337.4L838.4 335.6L839.6 333.8L840.8 331.9L842.0 330.0L843.1 328.2L844.2 326.4L845.4 324.5L846.5 322.7L847.7 320.8L849.0 319.0L850.2 317.4L851.4 315.8L852.7 314.3L854.1 312.7L855.4 311.1L856.7 309.6L858.0 308.0" stroke="#b3b7b9" stroke-width="9.0"/>
<path d="M104.0 300.0L105.9 299.0L107.8 298.1L109.8 297.1L111.7 296.2L113.6 295.2L115.4 294.3L117.0 293.3L118.9 292.0L120.7 290.6L122.3 289.3L124.0 288.0L126.0 286.5L127.9 285.1L130.0 283.7L132.1 282.6L134.3 281.6L136.6 280.6L138.7 279.4L140.6 278.2L142.4 276.9L144.2 275.6L146.0 274.0L147.4 272.5L148.8 270.7L150.2 268.8L151.6 266.9L153.0 265.3L154.4 264.0L156.3 262.8L158.1 261.9L160.0 261.3L161.9 260.9L163.8 260.7L166.0 260.6L167.7 260.5L169.6 260.4L171.6 260.4L173.7 260.3L175.8 260.3L177.9 260.3L180.0 260.2L181.5 260.1L183.0 260.1L184.5 260.2L186.0 260.4L187.5 260.4L189.0 260.4L190.5 260.6L192.0 261.0L193.5 261.3L195.0 261.1L196.5 260.4L198.0 259.9L199.5 259.8L201.0 259.8L202.5 260.0L204.0 260.5L205.5 260.8L207.0 260.8L208.5 260.7L210.0 260.7L211.5 260.6L213.0 260.3L214.5 259.9L216.0 259.7L217.5 259.7L219.0 259.7L220.5 259.4L222.0 259.1L223.5 259.1L225.0 259.2L226.5 259.3L228.0 259.3L229.5 259.4L231.0 259.6L232.5 260.0L234.0 260.3L235.5 260.3L237.0 259.8L238.5 259.3L240.0 259.0L241.5 258.9L243.0 259.0L244.5 259.2L246.0 259.3L247.5 259.0L249.0 258.4L250.5 258.1L252.0 258.1L253.5 258.4L255.0 258.6L256.5 258.6L258.0 258.4L259.5 258.2L261.0 258.2L262.5 258.3L264.0 258.3L265.5 258.3L267.0 258.4L268.5 258.7L270.0 258.8L271.5 258.8L273.0 258.6L274.5 258.5L276.0 258.6L277.5 258.8L279.0 258.9L280.5 258.9L282.0 258.9L283.5 258.9L285.0 258.7L286.5 258.3L288.0 258.2L289.5 258.4L291.0 258.6L292.5 258.7L294.0 258.5L295.5 258.1L297.0 257.6L298.5 257.1L300.0 257.0L301.5 257.0L303.0 257.4L304.5 257.9L306.0 258.0L307.5 257.7L309.0 257.3L310.5 256.9L312.0 256.6L313.5 256.6L315.0 256.9L316.5 257.3L318.0 257.6L319.5 257.6L321.0 257.5L322.5 257.7L324.0 257.9L325.5 258.0L327.0 257.9L328.5 257.8L330.0 257.8L331.5 257.8L333.0 257.6L334.5 257.2L336.0 257.0L337.5 257.2L339.0 257.7L340.5 258.2L342.0 258.2L343.5 258.0L345.0 257.9L346.5 258.1L348.0 258.4L349.5 258.6L351.0 258.7L352.5 258.7L354.0 258.7L355.5 258.9L357.0 259.2L358.5 259.1L360.0 258.5L361.5 258.1L363.0 257.9L364.5 257.7L366.0 257.5L367.5 257.4L369.0 257.7L370.5 258.4L372.0 259.0L373.5 259.1L375.0 258.6L376.5 258.2L378.0 258.1L379.5 258.3L381.0 258.5L382.5 258.7L384.0 258.7L385.5 258.7L387.0 258.5L388.5 258.1L390.0 257.7L391.5 258.0L393.0 258.4L394.5 258.5L396.0 258.4L397.5 258.5L399.0 258.8L400.5 259.0L402.0 259.0L403.5 258.9L405.0 259.0L406.5 259.3L408.0 259.4L409.5 259.3L411.0 259.0L412.5 258.7L414.0 258.5L415.5 258.4L417.0 258.4L418.5 258.6L420.0 258.9L421.5 258.8L423.0 258.4L424.5 258.2L426.0 258.3L427.5 258.6L429.0 258.8L430.5 258.7L432.0 258.7L433.5 259.0L435.0 259.4L436.5 259.8L438.0 260.0L439.5 260.1L441.0 260.2L442.5 259.9L444.0 259.7L445.5 259.6L447.0 259.5L448.5 259.1L450.0 258.7L451.5 258.6L453.0 258.8L454.5 258.9L456.0 258.8L457.5 258.7L459.0 258.7L460.5 258.6L462.0 258.2L463.5 258.0L465.0 258.1L466.5 258.7L468.0 259.1L469.5 259.3L471.0 259.4L472.5 259.3L474.0 259.1L475.5 258.8L477.0 258.9L478.5 259.2L480.0 259.6L481.5 259.7L483.0 259.5L484.5 259.5L486.0 259.6L487.5 259.3L489.0 258.5L490.5 257.9L492.0 258.0L493.5 258.5L495.0 258.8L496.5 259.1L498.0 259.3L499.5 259.5L501.0 259.8L502.5 260.2L504.0 260.4L505.5 260.1L507.0 259.3L508.5 258.6L510.0 258.3L511.5 258.2L513.0 258.1L514.5 257.9L516.0 258.1L517.5 258.3L519.0 258.5L520.5 258.6L522.0 258.6L523.5 258.8L525.0 259.0L526.5 258.9L528.0 258.4L529.5 257.9L531.0 257.6L532.5 257.5L534.0 257.3L535.5 257.1L537.0 257.2L538.5 257.5L540.0 257.9L541.5 258.3L543.0 259.0L544.5 259.5L546.0 259.6L547.5 259.6L549.0 259.6L550.5 259.9L552.0 260.4L553.5 260.6L555.0 260.5L556.5 260.4L558.0 260.2L559.5 259.8L561.0 259.5L562.5 259.2L564.0 259.1L565.5 259.4L567.0 259.5L568.5 259.6L570.0 259.8L571.5 260.2L573.0 260.4L574.5 260.4L576.0 260.0L577.5 259.7L579.0 259.8L580.5 260.2L582.0 260.4L583.5 260.3L585.0 260.3L586.5 260.4L588.0 260.4L589.5 260.5L591.0 260.8L592.5 260.9L594.0 260.5L595.5 260.0L597.0 259.9L598.5 260.2L600.0 260.5L601.5 260.6L603.0 260.5L604.5 260.0L606.0 259.3L607.5 258.9L609.0 259.2L610.5 259.9L612.0 260.4L613.5 260.6L615.0 260.7L616.5 260.8L618.0 261.1L619.5 261.1L621.0 260.7L622.5 260.4L624.0 260.0L625.5 259.6L627.0 259.4L628.5 259.6L630.0 259.9L631.5 259.9L633.0 259.8L634.5 259.7L636.0 259.7L637.5 259.5L639.0 259.5L640.5 259.8L642.0 260.0L643.5 260.0L645.0 260.0L646.5 260.0L648.0 260.1L649.5 260.3L651.0 260.4L652.5 260.3L654.0 260.1L655.5 259.9L657.0 260.1L658.5 260.5L660.0 260.8L661.5 261.2L663.0 261.4L664.5 261.3L666.0 261.3L667.5 261.4L669.0 261.4L670.5 261.0L672.0 260.5L673.5 260.1L675.0 260.1L676.5 260.2L678.0 260.2L679.5 260.4L681.0 260.7L682.5 260.8L684.0 260.6L685.5 260.2L687.0 259.9L688.5 259.9L690.0 260.2L691.5 260.8L693.0 261.0L694.5 260.7L696.0 260.4L697.5 260.5L699.0 260.7L700.5 260.7L702.0 260.6L703.5 260.6L705.0 260.8L706.5 260.8L708.0 260.8L709.5 260.5L711.0 260.1L712.5 259.6L714.0 259.2L715.5 259.2L717.0 259.5L718.5 259.7L720.0 259.8L721.5 259.8L723.0 259.9L724.5 260.0L726.0 260.2L727.5 260.6L729.0 260.7L730.5 260.3L732.0 260.1L733.5 260.4L735.0 260.8L736.5 261.1L738.0 261.3L739.5 261.5L741.0 261.5L742.5 261.4L744.0 261.3L745.5 261.3L747.0 261.1L748.5 260.7L750.0 260.5L751.5 260.5L753.0 260.5L754.5 260.2L756.0 259.9L757.5 259.9L759.0 260.1L760.5 260.1L762.0 260.0L763.5 259.8L765.0 259.9L766.5 260.2L768.0 260.5L769.5 260.3L771.0 259.9L772.5 259.5L774.0 259.3L775.5 259.0L777.0 258.5L778.5 258.5L780.0 259.0L781.5 259.5L783.0 259.8L784.5 259.8L786.0 259.5L787.5 259.3L789.0 259.3L790.5 259.3L792.0 259.3L793.5 259.3L795.0 259.4L796.5 259.3L798.0 259.2L800.1 258.7L802.2 258.0L804.2 256.4L806.1 254.3L807.1 252.6L808.1 250.7L809.0 248.8L810.0 247.0L811.1 245.1L812.2 243.3L813.5 242.0L815.5 240.9L817.5 241.0L818.1 241.6L818.5 242.7L818.9 244.1L819.2 245.8L819.5 247.8L819.7 250.0L819.8 252.3L819.9 254.8L820.0 257.4L820.1 260.0L820.2 262.6L820.3 265.2L820.4 267.7L820.5 270.0L820.6 271.9L820.7 273.7L820.8 275.6L820.9 277.6L821.0 279.5L821.0 281.5L821.1 283.5L821.1 285.5L821.2 287.6L821.2 289.6L821.2 291.6L821.3 293.7L821.3 295.7L821.3 297.8L821.3 299.8L821.4 301.9L821.4 303.9L821.4 306.0L821.5 308.0L821.5 310.0L821.5 312.0L821.6 314.0L821.6 316.0L821.6 318.0L821.6 320.0L821.7 322.0L821.7 324.0L821.7 326.0L821.7 328.0L821.8 330.0L821.8 332.0L821.8 334.0L821.8 336.0L821.8 338.0L821.9 340.0L821.9 342.0L821.9 344.0L821.9 346.0L822.0 348.0L822.0 350.0L822.0 352.0L822.1 354.1L822.1 356.2L822.1 358.3L822.2 360.5L822.2 362.6L822.2 364.8L822.3 367.0L822.3 369.1L822.3 371.3L822.4 373.4L822.4 375.5L822.5 377.5L822.5 379.5L822.6 381.4L822.6 383.3L822.7 385.1L822.8 386.8L822.9 388.5L823.0 390.0L823.2 392.6L823.4 395.3L823.7 398.0L823.9 400.3L824.2 402.2L824.4 403.5L824.7 404.0L825.0 403.4L825.3 401.9L825.6 399.6L826.0 397.1L826.2 394.4L826.5 392.0L826.7 390.0L826.8 388.0L827.0 386.0L827.1 383.9L827.2 381.7L827.3 379.6L827.4 377.3L827.5 375.0L827.6 373.1L827.7 371.1L827.8 369.1L827.9 367.0L827.9 364.9L828.0 362.8L828.1 360.7L828.2 358.5L828.3 356.4L828.3 354.2L828.4 352.1L828.5 350.0L828.6 347.9L828.7 345.8L828.7 343.6L828.8 341.5L828.9 339.3L829.0 337.2L829.1 335.1L829.1 333.0L829.2 330.9L829.3 328.9L829.4 326.9L829.5 325.0L829.6 322.7L829.7 320.4L829.8 318.2L829.9 316.1L830.0 314.0L830.1 311.9L830.3 309.9L830.5 308.0L830.8 305.6L831.2 303.4L831.6 301.2L832.1 299.1L832.5 297.0L832.9 294.6L833.3 292.3L833.8 290.0L834.5 288.0L835.4 285.9L836.5 284.0L838.0 282.5L839.6 281.5L841.4 280.7L843.5 280.2L845.6 279.8L847.5 279.7L849.5 279.7L851.6 279.9L853.7 280.1L855.9 280.3L858.0 280.5" stroke="#0f3d6b" stroke-width="9.0"/>
<path d="M104.0 407.0L105.2 405.3L106.3 403.6L107.5 401.9L108.7 400.2L109.9 398.5L111.0 396.8L112.0 395.0L113.0 393.2L113.9 391.4L114.9 389.6L115.7 387.8L116.6 385.9L117.3 384.0L118.0 382.0L118.6 380.0L119.1 378.0L119.5 375.9L119.8 373.8L120.2 371.6L120.4 369.4L120.7 367.2L121.0 365.0L121.2 363.1L121.4 361.0L121.5 359.0L121.7 356.9L121.8 354.8L121.9 352.8L122.0 350.7L122.2 348.7L122.3 346.8L122.5 345.0L122.8 342.7L123.1 340.5L123.5 338.4L123.8 336.3L124.2 334.2L124.5 332.0L124.8 330.0L125.1 328.0L125.3 326.0L125.6 324.0L125.8 321.9L126.1 319.9L126.3 318.0L126.5 315.9L126.6 313.8L126.7 311.8L126.8 309.7L127.0 307.8L127.3 306.0L127.8 303.3L128.5 300.8L129.5 298.5L130.9 296.6L132.6 295.0L134.5 293.5L136.6 292.1L138.8 290.8L141.0 289.5L142.9 288.1L144.7 286.6L146.5 285.0L148.3 283.1L150.0 281.1L152.0 279.5L153.8 278.7L155.7 278.2L157.8 277.8L160.0 277.5L161.9 277.3L163.9 277.2L166.1 277.2L168.3 277.2L170.6 277.3L172.8 277.3L175.0 277.3L176.5 277.3L178.0 277.2L179.5 277.2L181.0 277.2L182.5 277.2L184.0 277.4L185.5 277.5L187.0 277.6L188.5 277.5L190.0 277.2L191.5 277.1L193.0 277.3L194.5 277.5L196.0 277.6L197.5 277.4L199.0 276.9L200.5 276.6L202.0 276.9L203.5 277.2L205.0 277.2L206.5 277.1L208.0 277.2L209.5 277.4L211.0 277.4L212.5 277.2L214.0 277.0L215.5 276.9L217.0 277.0L218.5 277.3L220.0 277.4L221.5 277.3L223.0 277.3L224.5 277.4L226.0 277.8L227.5 278.2L229.0 278.5L230.5 278.4L232.0 278.0L233.5 277.8L235.0 277.9L236.5 278.0L238.0 278.0L239.5 278.0L241.0 278.3L242.5 278.6L244.0 278.7L245.5 278.4L247.0 278.2L248.5 278.3L250.0 278.4L251.5 278.3L253.0 277.9L254.5 277.3L256.0 276.8L257.5 276.6L259.0 276.7L260.5 277.1L262.0 277.4L263.5 277.5L265.0 277.3L266.5 277.0L268.0 276.8L269.5 276.7L271.0 276.9L272.5 277.3L274.0 277.7L275.5 278.1L277.0 278.2L278.5 278.1L280.0 277.8L281.5 277.5L283.0 277.3L284.5 277.2L286.0 277.5L287.5 277.9L289.0 278.0L290.5 277.6L292.0 277.3L293.5 277.5L295.0 277.6L296.5 277.6L298.0 277.6L299.5 277.9L301.0 278.2L302.5 278.3L304.0 278.1L305.5 277.9L307.0 277.8L308.5 277.9L310.0 277.7L311.5 277.3L313.0 277.1L314.5 277.4L316.0 278.0L317.5 278.4L319.0 278.5L320.5 278.6L322.0 278.5L323.5 278.1L325.0 277.6L326.5 277.4L328.0 277.6L329.5 277.8L331.0 277.8L332.5 277.6L334.0 277.3L335.5 277.1L337.0 277.2L338.5 277.5L340.0 277.5L341.5 277.6L343.0 277.7L344.5 277.5L346.0 277.1L347.5 277.1L349.0 277.3L350.5 277.8L352.0 278.2L353.5 278.3L355.0 278.0L356.5 277.5L358.0 277.0L359.5 277.1L361.0 277.5L362.5 278.0L364.0 278.1L365.5 277.9L367.0 277.6L368.5 277.2L370.0 277.0L371.5 277.1L373.0 277.4L374.5 277.7L376.0 277.9L377.5 278.1L379.0 278.6L380.5 279.1L382.0 279.5L383.5 279.5L385.0 279.1L386.5 278.8L388.0 278.8L389.5 279.1L391.0 279.5L392.5 279.4L394.0 278.9L395.5 278.3L397.0 278.3L398.5 278.7L400.0 279.0L401.5 279.2L403.0 279.0L404.5 278.4L406.0 277.8L407.5 277.9L409.0 278.5L410.5 279.1L412.0 279.2L413.5 278.9L415.0 278.6L416.5 278.3L418.0 278.3L419.5 278.4L421.0 278.7L422.5 279.0L424.0 279.3L425.5 279.4L427.0 279.3L428.5 278.9L430.0 278.6L431.5 278.4L433.0 278.6L434.5 278.6L436.0 278.4L437.5 278.1L439.0 278.0L440.5 278.0L442.0 277.7L443.5 277.3L445.0 277.2L446.5 277.5L448.0 277.9L449.5 278.3L451.0 278.8L452.5 279.1L454.0 279.3L455.5 279.3L457.0 279.3L458.5 279.2L460.0 279.5L461.5 280.0L463.0 280.1L464.5 279.9L466.0 279.7L467.5 279.5L469.0 279.6L470.5 280.0L472.0 280.3L473.5 280.0L475.0 279.6L476.5 279.6L478.0 279.6L479.5 279.5L481.0 279.4L482.5 279.3L484.0 279.3L485.5 279.3L487.0 279.5L488.5 279.8L490.0 279.9L491.5 280.0L493.0 280.2L494.5 280.2L496.0 280.0L497.5 279.8L499.0 279.7L500.5 279.6L502.0 279.4L503.5 279.1L505.0 278.8L506.5 278.6L508.0 278.4L509.5 278.5L511.0 279.0L512.5 279.6L514.0 279.7L515.5 279.1L517.0 278.3L518.5 277.8L520.0 277.9L521.5 278.2L523.0 278.4L524.5 278.4L526.0 278.6L527.5 279.0L529.0 279.4L530.5 279.3L532.0 279.0L533.5 278.5L535.0 278.2L536.5 278.2L538.0 278.3L539.5 278.2L541.0 278.1L542.5 278.1L544.0 278.3L545.5 278.5L547.0 278.5L548.5 278.3L550.0 278.2L551.5 278.3L553.0 278.3L554.5 278.2L556.0 278.3L557.5 278.3L559.0 278.2L560.5 278.1L562.0 278.1L563.5 278.2L565.0 278.7L566.5 279.1L568.0 279.4L569.5 279.7L571.0 280.1L572.5 280.5L574.0 280.5L575.5 280.1L577.0 279.5L578.5 279.3L580.0 279.1L581.5 278.7L583.0 278.2L584.5 278.0L586.0 278.2L587.5 278.7L589.0 279.2L590.5 279.6L592.0 279.6L593.5 279.3L595.0 279.2L596.5 279.2L598.0 279.1L599.5 278.9L601.0 278.7L602.5 278.5L604.0 278.6L605.5 278.9L607.0 279.3L608.5 279.5L610.0 279.7L611.5 279.7L613.0 279.4L614.5 279.0L616.0 278.8L617.5 278.9L619.0 279.1L620.5 279.1L622.0 278.9L623.5 278.8L625.0 278.9L626.5 279.0L628.0 279.2L629.5 279.6L631.0 279.8L632.5 279.8L634.0 279.6L635.5 279.6L637.0 279.7L638.5 279.7L640.0 279.8L641.5 280.0L643.0 280.1L644.5 280.1L646.0 279.9L647.5 279.9L649.0 280.0L650.5 280.2L652.0 280.3L653.5 280.2L655.0 280.1L656.5 279.9L658.0 279.5L659.5 278.8L661.0 278.6L662.5 279.1L664.0 279.7L665.5 280.0L667.0 280.1L668.5 280.1L670.0 279.9L671.5 279.6L673.0 279.1L674.5 278.9L676.0 279.3L677.5 279.9L679.0 280.4L680.5 280.3L682.0 280.1L683.5 279.7L685.0 279.2L686.5 279.0L688.0 279.2L689.5 279.7L691.0 279.8L692.5 279.5L694.0 279.4L695.5 279.7L697.0 280.0L698.5 280.2L700.0 280.1L701.5 279.8L703.0 279.3L704.5 279.1L706.0 279.1L707.5 279.3L709.0 279.3L710.5 279.2L712.0 279.2L713.5 279.4L715.0 279.6L716.5 279.6L718.0 279.4L719.5 279.5L721.0 279.9L722.5 280.0L724.0 279.5L725.5 279.2L727.0 279.2L728.5 279.3L730.0 279.4L731.5 279.4L733.0 279.2L734.5 278.8L736.0 278.7L737.5 279.1L739.0 279.8L740.5 280.2L742.0 280.2L743.5 280.0L745.0 279.8L746.5 279.6L748.0 279.5L749.5 279.5L751.0 279.3L752.5 279.0L754.0 279.2L755.5 279.6L757.0 279.7L758.5 279.7L760.0 279.6L761.5 279.5L763.0 279.6L764.5 279.8L766.0 280.2L767.5 280.3L769.0 280.3L770.5 280.5L772.0 280.8L773.5 280.9L775.0 280.7L776.5 280.3L778.0 280.1L779.5 280.0L781.0 279.9L782.5 279.9L784.0 280.1L785.5 280.5L787.0 280.5L788.5 280.4L790.0 280.2L791.5 280.0L793.0 279.8L794.5 279.7L796.0 279.7L797.0 279.7L799.3 279.1L801.7 278.5L803.8 277.6L805.6 276.2L807.1 274.6L808.5 272.8L809.7 271.1L810.7 269.4L811.7 267.5L812.5 265.8L813.2 263.9L813.8 262.0L814.5 260.0L815.1 257.9L815.7 255.7L816.3 253.4L816.9 251.2L817.5 249.0L818.3 246.2L819.3 243.3L820.2 240.9L821.0 240.0L821.5 240.4L821.9 241.6L822.3 243.2L822.8 245.4L823.1 247.8L823.5 250.4L823.9 253.1L824.2 255.6L824.5 258.0L824.7 259.9L825.0 261.9L825.1 263.9L825.3 266.0L825.5 268.2L825.6 270.3L825.8 272.5L825.9 274.7L826.0 276.8L826.2 278.9L826.3 281.0L826.4 283.0L826.5 285.0L826.6 287.1L826.7 289.2L826.9 291.2L827.0 293.2L827.1 295.2L827.1 297.1L827.2 299.1L827.3 301.0L827.4 303.0L827.5 305.0L827.6 307.0L827.7 309.0L827.7 311.0L827.8 312.9L827.9 314.9L827.9 316.9L828.0 318.9L828.1 320.9L828.2 322.9L828.3 325.0L828.4 327.0L828.5 329.1L828.6 331.3L828.7 333.4L828.8 335.6L828.9 337.7L829.1 339.9L829.2 342.0L829.4 344.0L829.7 346.1L830.0 348.0L830.4 350.4L830.8 352.9L831.2 355.5L831.7 358.0L832.2 360.3L832.9 362.2L833.6 363.7L834.5 364.5L837.1 364.1L840.0 362.5L841.7 361.5L843.4 360.4L845.1 359.2L847.0 358.0L848.7 357.0L850.5 356.0L852.3 355.0L854.2 354.0L856.1 353.0L858.0 352.0" stroke="#0ba650" stroke-width="9.0"/>
<path d="M104.0 401.0L105.4 399.4L106.7 397.7L108.1 396.1L109.5 394.5L110.8 392.8L112.0 391.0L113.2 389.1L114.4 387.2L115.6 385.2L116.7 383.2L117.6 381.1L118.5 379.0L119.1 377.1L119.7 375.2L120.1 373.3L120.5 371.3L120.9 369.2L121.2 367.2L121.5 365.0L121.7 363.1L121.9 361.2L122.1 359.2L122.2 357.1L122.3 355.0L122.4 353.0L122.6 350.9L122.7 348.9L122.8 346.9L123.0 345.0L123.3 342.7L123.5 340.5L123.8 338.4L124.1 336.3L124.4 334.2L124.7 332.1L125.0 330.0L125.3 328.0L125.5 325.9L125.8 323.9L126.1 321.9L126.3 319.9L126.6 317.9L126.8 316.0L127.0 313.7L127.2 311.4L127.4 309.1L127.6 307.0L128.0 305.0L128.7 302.7L129.6 300.6L130.5 298.5" stroke="#0ba650" stroke-width="11.0"/>
<path d="M104.0 268.0L105.6 269.3L107.3 270.6L109.0 272.0L110.7 273.3L112.4 274.6L114.0 275.9L115.5 277.2L117.0 278.5L118.6 280.0L120.1 281.4L121.5 282.9L122.9 284.4L124.3 285.8L125.7 287.2L127.4 288.8L129.2 290.5L130.9 292.1L132.7 293.6L134.4 295.0L136.1 296.3L137.9 297.6L139.6 298.7L141.3 299.3L143.4 299.5L145.4 299.2L147.4 298.5L149.4 297.3L151.2 295.6L153.0 294.0L155.4 292.2L157.8 290.6L159.7 289.6L161.7 288.7L164.0 288.0L166.0 287.6L168.2 287.4L170.4 287.3L172.7 287.2L175.0 287.0L176.5 286.8L178.0 286.8L179.5 286.8L181.0 286.8L182.5 286.8L184.0 286.7L185.5 286.6L187.0 286.3L188.5 286.3L190.0 286.5L191.5 286.6L193.0 286.6L194.5 286.6L196.0 286.5L197.5 286.5L199.0 286.5L200.5 286.4L202.0 286.2L203.5 286.1L205.0 286.2L206.5 286.3L208.0 285.9L209.5 285.3L211.0 284.7L212.5 284.7L214.0 285.0L215.5 285.3L217.0 285.1L218.5 284.7L220.0 284.4L221.5 284.4L223.0 284.7L224.5 284.7L226.0 284.5L227.5 284.5L229.0 284.8L230.5 284.9L232.0 284.5L233.5 284.0L235.0 283.7L236.5 283.6L238.0 283.4L239.5 282.8L241.0 282.4L242.5 282.3L244.0 282.6L245.5 283.1L247.0 283.6L248.5 283.8L250.0 283.8L251.5 283.8L253.0 283.9L254.5 283.9L256.0 283.4L257.5 283.1L259.0 283.3L260.5 283.5L262.0 283.2L263.5 282.6L265.0 282.0L266.5 281.7L268.0 281.9L269.5 282.6L271.0 283.3L272.5 283.5L274.0 283.3L275.5 283.1L277.0 283.2L278.5 283.2L280.0 283.1L281.5 282.7L283.0 282.5L284.5 282.3L286.0 282.1L287.5 281.8L289.0 281.6L290.5 281.5L292.0 281.4L293.5 281.5L295.0 281.7L296.5 281.9L298.0 281.8L299.5 281.7L301.0 281.8L302.5 281.9L304.0 281.6L305.5 281.2L307.0 281.1L308.5 281.3L310.0 281.5L311.5 281.7L313.0 282.2L314.5 282.5L316.0 282.4L317.5 282.1L319.0 282.0L320.5 282.0L322.0 282.1L323.5 282.0L325.0 281.8L326.5 281.7L328.0 281.7L329.5 281.5L331.0 281.4L332.5 281.4L334.0 281.6L335.5 281.7L337.0 281.7L338.5 281.6L340.0 281.3L341.5 281.0L343.0 280.9L344.5 281.1L346.0 281.4L347.5 281.8L349.0 281.7L350.5 281.2L352.0 280.7L353.5 280.5L355.0 280.5L356.5 280.7L358.0 280.8L359.5 280.8L361.0 280.9L362.5 280.9L364.0 280.9L365.5 281.0L367.0 280.9L368.5 280.8L370.0 280.8L371.5 281.1L373.0 281.4L374.5 281.5L376.0 281.3L377.5 281.0L379.0 280.8L380.5 280.5L382.0 280.2L383.5 280.2L385.0 280.3L386.5 280.6L388.0 280.7L389.5 280.6L391.0 280.5L392.5 280.6L394.0 280.5L395.5 280.1L397.0 279.8L398.5 279.7L400.0 279.5L401.5 279.3L403.0 279.3L404.5 279.3L406.0 279.0L407.5 278.8L409.0 279.1L410.5 279.4L412.0 279.3L413.5 279.0L415.0 278.7L416.5 278.7L418.0 278.9L419.5 279.0L421.0 279.2L422.5 279.5L424.0 279.6L425.5 279.4L427.0 279.1L428.5 279.1L430.0 279.4L431.5 280.0L433.0 280.2L434.5 280.0L436.0 279.7L437.5 279.5L439.0 279.5L440.5 279.4L442.0 279.2L443.5 279.2L445.0 279.5L446.5 280.1L448.0 280.6L449.5 280.7L451.0 280.6L452.5 280.4L454.0 280.2L455.5 280.3L457.0 280.2L458.5 279.8L460.0 279.5L461.5 279.5L463.0 279.5L464.5 279.4L466.0 279.2L467.5 279.1L469.0 279.2L470.5 279.7L472.0 280.1L473.5 280.0L475.0 279.6L476.5 279.3L478.0 279.0L479.5 278.8L481.0 278.8L482.5 279.1L484.0 279.4L485.5 279.4L487.0 279.0L488.5 278.8L490.0 278.8L491.5 278.8L493.0 278.9L494.5 279.2L496.0 279.6L497.5 280.0L499.0 280.1L500.5 280.2L502.0 280.4L503.5 280.5L505.0 280.4L506.5 280.1L508.0 280.0L509.5 279.9L511.0 279.9L512.5 280.2L514.0 280.6L515.5 280.8L517.0 280.9L518.5 280.9L520.0 280.8L521.5 280.7L523.0 280.4L524.5 280.0L526.0 279.6L527.5 279.7L529.0 280.1L530.5 280.3L532.0 280.3L533.5 280.2L535.0 280.1L536.5 279.7L538.0 279.1L539.5 278.9L541.0 279.2L542.5 279.6L544.0 279.7L545.5 279.5L547.0 279.1L548.5 279.1L550.0 279.4L551.5 279.5L553.0 279.5L554.5 279.6L556.0 279.6L557.5 279.5L559.0 279.6L560.5 279.8L562.0 280.0L563.5 280.0L565.0 279.8L566.5 279.8L568.0 280.1L569.5 280.8L571.0 281.2L572.5 281.1L574.0 280.5L575.5 280.0L577.0 279.9L578.5 280.1L580.0 280.5L581.5 280.6L583.0 280.8L584.5 280.6L586.0 280.4L587.5 280.1L589.0 279.8L590.5 279.6L592.0 279.5L593.5 279.6L595.0 279.6L596.5 279.6L598.0 279.5L599.5 279.4L601.0 279.5L602.5 279.8L604.0 279.8L605.5 279.7L607.0 279.5L608.5 279.3L610.0 278.9L611.5 278.6L613.0 278.8L614.5 279.2L616.0 279.5L617.5 279.3L619.0 278.9L620.5 278.8L622.0 278.9L623.5 278.9L625.0 278.7L626.5 278.7L628.0 279.0L629.5 279.3L631.0 279.3L632.5 279.1L634.0 278.9L635.5 278.9L637.0 279.3L638.5 279.5L640.0 279.6L641.5 279.8L643.0 280.1L644.5 280.2L646.0 280.0L647.5 279.7L649.0 279.7L650.5 279.8L652.0 279.9L653.5 279.8L655.0 279.8L656.5 279.8L658.0 279.8L659.5 280.0L661.0 280.0L662.5 279.8L664.0 279.6L665.5 279.6L667.0 279.7L668.5 279.6L670.0 279.7L671.5 280.2L673.0 280.5L674.5 280.3L676.0 280.0L677.5 279.8L679.0 279.6L680.5 279.3L682.0 279.2L683.5 279.1L685.0 278.9L686.5 278.9L688.0 278.9L689.5 278.9L691.0 278.9L692.5 278.8L694.0 278.7L695.5 278.9L697.0 279.3L698.5 279.6L700.0 279.5L701.5 279.3L703.0 279.2L704.5 279.2L706.0 279.3L707.5 279.3L709.0 279.4L710.5 279.5L712.0 279.5L713.5 279.4L715.0 279.2L716.5 279.0L718.0 279.0L719.5 279.1L721.0 279.1L722.5 279.1L724.0 279.4L725.5 279.7L727.0 280.0L728.5 280.1L730.0 280.0L731.5 279.7L733.0 279.2L734.5 278.7L736.0 278.4L737.5 278.3L739.0 278.0L740.5 277.6L742.0 277.5L743.5 277.8L745.0 278.3L746.5 278.8L748.0 279.3L749.5 279.6L751.0 279.5L752.5 279.4L754.0 279.4L755.5 279.3L757.0 278.9L758.5 278.7L760.0 278.8L761.5 279.0L763.0 278.7L764.5 278.4L766.0 278.1L767.5 278.1L769.0 278.1L770.5 278.1L772.0 278.3L773.5 278.8L775.0 279.0L776.5 278.5L778.0 277.9L779.5 277.6L781.0 277.6L782.5 277.5L784.0 277.2L785.5 276.8L787.0 276.4L788.5 276.1L790.0 275.9L791.5 275.8L793.0 275.7L794.5 275.6L796.0 275.7L797.0 274.5L799.3 273.0L801.5 271.3L803.0 270.0L804.3 268.6L805.7 267.0L807.2 264.9L808.6 262.7L810.0 260.5L811.5 258.7L813.0 257.1L814.4 255.3L815.7 253.3L816.8 251.1L818.0 249.0L819.2 246.7L820.3 244.5L821.5 243.5L823.3 245.0L825.0 248.0L825.6 249.6L826.1 251.4L826.5 253.5L826.9 255.6L827.2 257.8L827.6 260.0L828.0 262.0L828.5 264.1L828.9 266.3L829.3 268.4L829.8 270.4L830.3 272.3L831.0 274.0L832.1 276.2L833.3 278.0L835.0 279.5L836.7 280.4L838.8 280.9L841.0 281.4L843.4 281.8L845.6 282.5L847.6 283.3L849.7 284.3L851.8 285.3L853.8 286.4L855.9 287.5L858.0 288.5" stroke="#fcc794" stroke-width="9.0"/>
<path d="M104.0 345.5L105.9 344.2L107.7 342.9L109.6 341.6L111.5 340.4L113.3 339.2L115.0 338.0L117.0 336.6L118.9 335.4L120.9 334.1L123.0 333.0L124.8 332.2L126.7 331.4L128.7 330.6L130.7 329.9L132.7 329.3L134.7 328.6L136.7 327.9L138.7 327.1L140.8 326.4L142.7 325.8L144.6 325.4L146.3 325.3L148.4 325.7L150.2 326.6L152.0 327.5L154.0 328.5L156.0 329.6L158.0 330.5L159.9 331.1L161.8 331.6L164.0 332.0L166.0 332.2L168.1 332.3L170.3 332.3L172.6 332.3L175.0 332.3L177.0 332.3L179.1 332.3L181.3 332.2L183.4 332.2L185.6 332.1L187.8 332.0L190.0 332.0L191.5 332.0L193.0 331.9L194.5 331.9L196.0 331.9L197.5 332.0L199.0 332.2L200.5 332.3L202.0 332.2L203.5 332.0L205.0 332.1L206.5 332.2L208.0 332.0L209.5 332.0L211.0 332.1L212.5 331.9L214.0 331.5L215.5 331.5L217.0 332.0L218.5 332.4L220.0 332.4L221.5 332.3L223.0 332.2L224.5 332.2L226.0 332.0L227.5 331.6L229.0 331.2L230.5 331.0L232.0 331.2L233.5 331.6L235.0 332.0L236.5 332.3L238.0 332.4L239.5 332.2L241.0 332.0L242.5 331.8L244.0 331.7L245.5 331.5L247.0 331.6L248.5 331.8L250.0 331.9L251.5 331.9L253.0 332.0L254.5 332.1L256.0 332.0L257.5 331.8L259.0 331.7L260.5 331.6L262.0 331.7L263.5 332.0L265.0 331.9L266.5 331.8L268.0 331.8L269.5 332.0L271.0 332.0L272.5 331.9L274.0 331.9L275.5 332.0L277.0 332.1L278.5 331.9L280.0 331.5L281.5 331.4L283.0 331.6L284.5 331.8L286.0 332.1L287.5 332.3L289.0 332.4L290.5 332.5L292.0 332.3L293.5 331.6L295.0 330.8L296.5 330.7L298.0 331.2L299.5 331.6L301.0 331.5L302.5 331.0L304.0 330.7L305.5 330.7L307.0 330.8L308.5 330.6L310.0 330.3L311.5 330.4L313.0 330.7L314.5 330.9L316.0 330.8L317.5 330.8L319.0 330.9L320.5 331.0L322.0 330.9L323.5 330.9L325.0 331.1L326.5 331.6L328.0 332.2L329.5 332.6L331.0 332.7L332.5 332.6L334.0 332.6L335.5 332.7L337.0 332.8L338.5 332.8L340.0 332.6L341.5 332.4L343.0 332.5L344.5 332.6L346.0 332.5L347.5 332.3L349.0 332.0L350.5 331.8L352.0 331.7L353.5 331.5L355.0 331.1L356.5 331.0L358.0 331.0L359.5 330.6L361.0 329.9L362.5 329.5L364.0 329.8L365.5 330.4L367.0 330.8L368.5 331.2L370.0 331.5L371.5 331.4L373.0 331.2L374.5 331.1L376.0 331.0L377.5 330.8L379.0 330.7L380.5 330.6L382.0 330.4L383.5 330.3L385.0 330.6L386.5 330.7L388.0 330.5L389.5 330.2L391.0 330.1L392.5 330.4L394.0 330.9L395.5 331.2L397.0 331.4L398.5 331.3L400.0 330.8L401.5 330.2L403.0 330.1L404.5 330.0L406.0 330.0L407.5 330.0L409.0 330.0L410.5 330.2L412.0 330.7L413.5 331.1L415.0 331.2L416.5 331.0L418.0 330.6L419.5 330.3L421.0 330.1L422.5 330.4L424.0 330.7L425.5 331.1L427.0 331.4L428.5 331.4L430.0 331.2L431.5 330.7L433.0 330.6L434.5 330.7L436.0 330.7L437.5 330.3L439.0 330.1L440.5 330.3L442.0 330.7L443.5 331.2L445.0 331.5L446.5 331.7L448.0 331.9L449.5 331.8L451.0 331.4L452.5 331.0L454.0 330.5L455.5 330.1L457.0 329.8L458.5 329.7L460.0 329.8L461.5 330.2L463.0 330.6L464.5 330.7L466.0 330.5L467.5 330.3L469.0 330.3L470.5 330.6L472.0 331.1L473.5 331.6L475.0 331.9L476.5 331.8L478.0 331.5L479.5 331.1L481.0 330.7L482.5 330.5L484.0 330.6L485.5 330.9L487.0 331.2L488.5 331.3L490.0 331.2L491.5 331.3L493.0 331.5L494.5 331.7L496.0 331.7L497.5 331.4L499.0 331.3L500.5 331.1L502.0 331.1L503.5 331.5L505.0 331.9L506.5 332.2L508.0 332.2L509.5 332.0L511.0 331.9L512.5 332.2L514.0 332.6L515.5 332.6L517.0 332.2L518.5 332.0L520.0 331.8L521.5 331.8L523.0 331.7L524.5 331.6L526.0 331.5L527.5 331.4L529.0 331.4L530.5 331.6L532.0 331.7L533.5 331.7L535.0 331.6L536.5 331.5L538.0 331.3L539.5 331.0L541.0 330.9L542.5 330.9L544.0 330.9L545.5 331.1L547.0 331.5L548.5 331.5L550.0 331.2L551.5 331.0L553.0 331.0L554.5 331.1L556.0 331.3L557.5 331.1L559.0 330.6L560.5 330.3L562.0 330.6L563.5 331.3L565.0 332.0L566.5 332.1L568.0 331.9L569.5 331.5L571.0 331.2L572.5 331.1L574.0 331.4L575.5 331.7L577.0 332.0L578.5 332.4L580.0 332.8L581.5 332.6L583.0 331.9L584.5 331.2L586.0 330.8L587.5 330.7L589.0 330.8L590.5 331.3L592.0 331.8L593.5 332.3L595.0 332.7L596.5 332.9L598.0 332.7L599.5 332.3L601.0 331.9L602.5 331.6L604.0 331.7L605.5 331.9L607.0 331.9L608.5 332.0L610.0 332.3L611.5 332.7L613.0 332.8L614.5 332.7L616.0 332.7L617.5 332.6L619.0 332.1L620.5 331.7L622.0 331.7L623.5 331.7L625.0 331.5L626.5 331.2L628.0 330.9L629.5 330.7L631.0 330.7L632.5 330.5L634.0 330.4L635.5 330.7L637.0 331.2L638.5 331.5L640.0 331.2L641.5 330.6L643.0 330.3L644.5 330.6L646.0 331.3L647.5 331.9L649.0 331.9L650.5 331.5L652.0 331.1L653.5 330.8L655.0 330.5L656.5 330.3L658.0 330.3L659.5 330.3L661.0 330.3L662.5 330.4L664.0 330.8L665.5 331.0L667.0 330.7L668.5 330.1L670.0 330.0L671.5 330.6L673.0 331.6L674.5 332.0L676.0 331.9L677.5 331.6L679.0 331.5L680.5 331.5L682.0 331.3L683.5 331.2L685.0 331.5L686.5 332.0L688.0 332.2L689.5 331.7L691.0 331.1L692.5 330.9L694.0 331.1L695.5 331.4L697.0 331.5L698.5 331.7L700.0 332.0L701.5 332.0L703.0 331.9L704.5 332.0L706.0 332.4L707.5 332.8L709.0 332.9L710.5 332.9L712.0 332.8L713.5 332.4L715.0 331.8L716.5 331.4L718.0 331.3L719.5 331.3L721.0 331.2L722.5 330.9L724.0 330.4L725.5 330.1L727.0 330.2L728.5 330.6L730.0 331.0L731.5 331.4L733.0 331.8L734.5 332.0L736.0 331.8L737.5 331.3L739.0 331.0L740.5 331.1L742.0 331.1L743.5 330.9L745.0 330.6L746.5 330.4L748.0 330.6L749.5 330.8L751.0 331.0L752.5 330.7L754.0 330.4L755.5 330.2L757.0 330.3L758.5 330.4L760.0 330.6L761.5 330.7L763.0 330.4L764.5 330.0L766.0 330.0L767.5 330.3L769.0 330.4L770.5 330.3L772.0 330.0L773.5 329.6L775.0 329.3L776.5 329.1L778.0 329.1L779.5 329.6L781.0 330.1L782.5 330.3L784.0 330.4L785.5 330.5L787.0 330.5L788.5 330.6L790.0 330.8L791.5 330.8L793.0 330.6L794.5 330.4L796.0 330.3L797.5 330.3L799.0 330.1L800.5 330.0L802.0 330.0L803.0 330.0L804.7 331.2L806.4 332.4L808.0 334.0L809.0 335.5L809.9 337.1L810.7 339.0L811.5 341.0L812.3 343.0L813.0 345.0L813.7 347.1L814.4 349.4L815.1 351.6L815.7 353.9L816.4 356.0L817.0 358.0L817.8 360.5L818.5 363.1L819.3 365.2L820.0 366.0L820.6 365.2L821.3 363.3L821.9 360.7L822.4 357.8L823.0 355.0L823.3 353.2L823.6 351.3L823.9 349.3L824.2 347.2L824.4 345.1L824.7 343.0L825.0 340.9L825.3 338.8L825.6 336.8L826.0 335.0L826.5 332.4L827.1 329.7L827.7 327.0L828.3 324.7L829.1 322.9L830.0 322.0L831.9 322.4L834.0 324.0L835.2 325.3L836.4 327.0L837.6 329.0L838.7 331.0L840.0 333.0L841.1 334.6L842.1 336.4L843.2 338.1L844.4 339.9L845.5 341.7L846.7 343.4L848.0 345.0L849.3 346.5L850.7 348.0L852.1 349.4L853.6 350.8L855.1 352.2L856.6 353.6L858.0 355.0" stroke="#b086be" stroke-width="9.0"/>
<path d="M104.0 386.0L105.6 384.4L107.2 382.8L108.8 381.2L110.4 379.6L112.0 378.0L113.5 376.5L115.0 375.0L116.6 373.2L118.2 371.5L119.7 369.8L121.3 368.2L123.0 366.6L124.6 365.4L126.3 364.2L128.1 363.0L129.9 361.9L131.6 360.7L133.3 359.6L134.7 358.5L136.7 356.6L138.4 354.7L140.0 353.0L141.9 351.2L144.0 349.8L145.7 349.2L147.6 348.8L149.7 348.5L152.0 348.3L153.9 348.1L155.9 348.0L158.1 348.0L160.4 348.0L162.7 347.9L165.0 347.9L167.3 347.9L169.5 347.8L171.8 347.7L174.0 347.6L176.2 347.4L178.4 347.3L180.6 347.1L182.8 346.9L185.0 346.8L186.5 346.2L188.0 346.2L189.5 346.3L191.0 346.1L192.5 345.9L194.0 345.8L195.5 345.7L197.0 345.6L198.5 345.3L200.0 345.2L201.5 345.1L203.0 344.9L204.5 344.7L206.0 344.7L207.5 344.7L209.0 344.6L210.5 344.5L212.0 344.5L213.5 344.4L215.0 344.1L216.5 343.6L218.0 343.3L219.5 343.4L221.0 343.6L222.5 343.5L224.0 343.5L225.5 343.8L227.0 344.2L228.5 344.6L230.0 344.8L231.5 344.5L233.0 344.2L234.5 344.3L236.0 344.8L237.5 344.8L239.0 344.4L240.5 343.9L242.0 343.5L243.5 343.1L245.0 342.7L246.5 342.5L248.0 342.6L249.5 342.7L251.0 342.8L252.5 343.0L254.0 343.4L255.5 343.8L257.0 344.0L258.5 344.1L260.0 344.0L261.5 343.7L263.0 343.5L264.5 343.5L266.0 343.5L267.5 343.3L269.0 343.2L270.5 343.2L272.0 343.4L273.5 343.6L275.0 343.4L276.5 342.9L278.0 342.4L279.5 342.1L281.0 341.7L282.5 341.4L284.0 341.3L285.5 341.4L287.0 342.0L288.5 342.8L290.0 343.1L291.5 342.9L293.0 342.4L294.5 341.9L296.0 341.7L297.5 341.5L299.0 341.4L300.5 341.4L302.0 341.6L303.5 341.7L305.0 341.9L306.5 342.1L308.0 342.4L309.5 342.5L311.0 342.4L312.5 342.1L314.0 341.8L315.5 341.4L317.0 341.1L318.5 341.0L320.0 341.2L321.5 341.7L323.0 342.2L324.5 342.3L326.0 342.0L327.5 341.6L329.0 341.4L330.5 341.4L332.0 341.4L333.5 341.4L335.0 341.3L336.5 341.3L338.0 341.3L339.5 341.0L341.0 340.8L342.5 340.7L344.0 340.5L345.5 340.4L347.0 340.2L348.5 340.2L350.0 340.3L351.5 340.5L353.0 340.3L354.5 340.0L356.0 339.9L357.5 339.8L359.0 339.9L360.5 340.3L362.0 340.7L363.5 340.7L365.0 340.4L366.5 340.0L368.0 339.5L369.5 339.2L371.0 339.2L372.5 339.5L374.0 339.5L375.5 339.4L377.0 339.5L378.5 339.9L380.0 340.1L381.5 340.1L383.0 340.0L384.5 340.0L386.0 339.9L387.5 339.8L389.0 339.8L390.5 339.9L392.0 339.7L393.5 339.2L395.0 338.9L396.5 339.1L398.0 339.5L399.5 339.8L401.0 339.9L402.5 339.8L404.0 339.3L405.5 338.7L407.0 338.4L408.5 338.4L410.0 338.7L411.5 339.0L413.0 338.9L414.5 338.9L416.0 339.2L417.5 339.5L419.0 339.9L420.5 340.1L422.0 340.2L423.5 340.0L425.0 339.7L426.5 339.2L428.0 338.6L429.5 338.5L431.0 338.8L432.5 339.2L434.0 339.4L435.5 339.3L437.0 339.1L438.5 339.0L440.0 339.2L441.5 339.4L443.0 339.4L444.5 339.1L446.0 338.8L447.5 338.6L449.0 338.7L450.5 339.0L452.0 339.1L453.5 338.7L455.0 338.0L456.5 337.6L458.0 338.0L459.5 338.8L461.0 339.5L462.5 339.7L464.0 339.7L465.5 340.0L467.0 340.3L468.5 340.4L470.0 340.3L471.5 340.0L473.0 339.8L474.5 339.9L476.0 339.9L477.5 339.4L479.0 338.9L480.5 338.9L482.0 339.4L483.5 339.7L485.0 339.6L486.5 339.3L488.0 339.2L489.5 339.1L491.0 339.2L492.5 339.2L494.0 339.2L495.5 339.1L497.0 339.2L498.5 339.3L500.0 339.5L501.5 339.8L503.0 340.2L504.5 340.3L506.0 340.1L507.5 339.7L509.0 339.3L510.5 339.3L512.0 339.6L513.5 339.9L515.0 340.0L516.5 339.9L518.0 339.9L519.5 339.9L521.0 339.9L522.5 339.8L524.0 339.8L525.5 340.0L527.0 340.5L528.5 341.1L530.0 340.9L531.5 340.1L533.0 339.3L534.5 338.8L536.0 338.8L537.5 339.0L539.0 339.1L540.5 339.1L542.0 339.1L543.5 339.1L545.0 338.9L546.5 338.6L548.0 338.3L549.5 338.1L551.0 338.2L552.5 338.2L554.0 338.1L555.5 338.1L557.0 338.3L558.5 338.6L560.0 338.8L561.5 338.9L563.0 338.8L564.5 338.8L566.0 338.8L567.5 338.9L569.0 338.9L570.5 338.9L572.0 338.6L573.5 338.2L575.0 337.7L576.5 337.7L578.0 338.2L579.5 338.6L581.0 338.4L582.5 338.2L584.0 338.2L585.5 338.4L587.0 338.4L588.5 338.4L590.0 338.4L591.5 338.4L593.0 338.2L594.5 337.9L596.0 338.0L597.5 338.4L599.0 338.8L600.5 338.7L602.0 338.3L603.5 338.1L605.0 338.2L606.5 338.2L608.0 338.3L609.5 338.7L611.0 338.9L612.5 338.7L614.0 338.6L615.5 338.7L617.0 338.9L618.5 338.8L620.0 338.3L621.5 337.9L623.0 338.1L624.5 338.6L626.0 339.1L627.5 339.2L629.0 339.2L630.5 339.0L632.0 338.8L633.5 338.8L635.0 339.0L636.5 338.8L638.0 338.6L639.5 338.5L641.0 338.6L642.5 338.6L644.0 338.7L645.5 338.9L647.0 339.1L648.5 339.2L650.0 339.0L651.5 338.6L653.0 338.5L654.5 338.7L656.0 338.9L657.5 338.8L659.0 339.0L660.5 339.0L662.0 338.9L663.5 338.7L665.0 338.7L666.5 338.7L668.0 338.7L669.5 338.8L671.0 339.2L672.5 339.6L674.0 340.0L675.5 340.1L677.0 340.0L678.5 339.9L680.0 339.8L681.5 339.4L683.0 338.9L684.5 338.4L686.0 338.2L687.5 338.4L689.0 338.9L690.5 339.4L692.0 339.5L693.5 339.1L695.0 338.7L696.5 338.5L698.0 338.7L699.5 339.4L701.0 340.1L702.5 340.3L704.0 340.1L705.5 340.0L707.0 339.9L708.5 339.6L710.0 339.2L711.5 339.3L713.0 339.5L714.5 339.1L716.0 338.5L717.5 338.0L719.0 338.1L720.5 338.6L722.0 339.0L723.5 339.2L725.0 339.1L726.5 338.8L728.0 338.8L729.5 338.9L731.0 338.9L732.5 339.0L734.0 339.3L735.5 339.3L737.0 339.2L738.5 338.9L740.0 339.0L741.5 339.1L743.0 339.1L744.5 338.6L746.0 338.2L747.5 337.9L749.0 338.1L750.5 338.3L752.0 338.5L753.5 338.6L755.0 338.8L756.5 338.8L758.0 338.7L759.5 338.5L761.0 338.4L762.5 338.3L764.0 338.5L765.5 338.9L767.0 339.1L768.5 338.9L770.0 338.7L771.5 338.6L773.0 338.4L774.5 338.4L776.0 338.5L777.5 338.5L779.0 338.4L780.5 338.3L782.0 337.9L783.5 337.5L785.0 337.3L786.5 337.6L788.0 338.1L789.5 338.4L791.0 338.5L792.5 338.6L794.0 338.5L795.5 338.3L797.0 338.3L798.5 338.4L800.0 338.3L802.1 338.1L804.1 337.9L806.0 337.5L808.2 336.7L810.0 335.5L811.0 334.0L811.8 332.1L812.5 330.0L812.9 328.1L813.2 326.0L813.5 323.9L814.0 322.0L814.9 319.5L815.9 317.1L817.0 316.0L818.1 317.0L819.1 319.4L820.0 322.0L820.4 323.8L820.6 325.8L820.7 327.9L820.8 330.0L821.0 332.0L821.3 334.1L821.5 336.3L821.9 338.3L822.5 340.0L824.0 342.3L826.0 344.0L828.4 344.8L831.0 345.0L833.2 344.8L835.6 344.3L838.0 343.5L840.0 342.6L841.9 341.5L843.9 340.3L846.0 339.0L847.9 337.9L849.8 336.8L851.9 335.6L853.9 334.4L856.0 333.2L858.0 332.0" stroke="#77787b" stroke-width="9.0"/>
<path d="M104.0 265.5L106.0 265.4L108.0 265.4L110.0 265.3L112.0 265.2L114.0 265.1L116.0 264.9L118.0 264.7L120.0 264.5L122.1 264.2L124.1 263.9L126.1 263.5L128.0 263.0L130.6 262.0L133.0 261.0L135.0 260.3L137.0 259.8L139.0 259.4L141.0 259.2L143.0 259.1L145.0 259.2L147.5 260.1L150.0 261.5L151.5 262.8L152.9 264.4L154.4 266.0L156.2 267.9L158.1 269.8L160.0 271.5L162.4 273.2L165.0 274.5L167.2 275.3L169.5 275.8L172.0 276.3L173.9 276.5L175.9 276.7L177.9 276.8L180.0 276.9L182.0 277.0L183.5 277.7L185.0 277.7L186.5 277.8L188.0 277.9L189.5 277.9L191.0 277.9L192.5 277.8L194.0 277.9L195.5 278.2L197.0 278.6L198.5 278.9L200.0 279.3L201.5 279.6L203.0 279.7L204.5 279.7L206.0 279.8L207.5 280.2L209.0 280.5L210.5 280.5L212.0 280.2L213.5 280.1L215.0 280.0L216.5 279.9L218.0 280.2L219.5 280.5L221.0 280.7L222.5 280.5L224.0 280.3L225.5 280.2L227.0 280.3L228.5 280.5L230.0 280.7L231.5 281.0L233.0 281.2L234.5 281.5L236.0 281.8L237.5 282.1L239.0 282.2L240.5 282.3L242.0 282.4L243.5 282.3L245.0 282.3L246.5 282.6L248.0 282.9L249.5 282.9L251.0 282.7L252.5 282.4L254.0 282.4L255.5 282.7L257.0 283.2L258.5 283.4L260.0 283.1L261.5 282.7L263.0 282.8L264.5 283.1L266.0 283.1L267.5 282.9L269.0 283.1L270.5 283.5L272.0 283.9L273.5 283.9L275.0 283.7L276.5 283.6L278.0 283.5L279.5 283.6L281.0 284.0L282.5 284.2L284.0 284.1L285.5 284.0L287.0 284.1L288.5 284.2L290.0 283.9L291.5 283.6L293.0 283.4L294.5 283.0L296.0 282.6L297.5 282.6L299.0 282.9L300.5 283.5L302.0 284.0L303.5 284.3L305.0 284.3L306.5 284.3L308.0 284.3L309.5 284.3L311.0 284.4L312.5 284.5L314.0 284.8L315.5 284.8L317.0 284.5L318.5 284.3L320.0 284.4L321.5 284.6L323.0 284.7L324.5 284.6L326.0 284.6L327.5 284.9L329.0 284.8L330.5 284.5L332.0 284.0L333.5 283.7L335.0 284.0L336.5 284.7L338.0 285.3L339.5 285.3L341.0 284.9L342.5 284.6L344.0 284.8L345.5 285.2L347.0 285.3L348.5 285.1L350.0 285.0L351.5 285.1L353.0 285.2L354.5 285.3L356.0 285.5L357.5 285.6L359.0 285.4L360.5 284.9L362.0 284.8L363.5 284.9L365.0 284.7L366.5 284.6L368.0 284.8L369.5 285.1L371.0 285.0L372.5 284.5L374.0 284.1L375.5 284.4L377.0 284.9L378.5 285.3L380.0 285.5L381.5 285.6L383.0 285.6L384.5 285.4L386.0 285.3L387.5 285.6L389.0 285.9L390.5 285.9L392.0 285.6L393.5 285.4L395.0 285.5L396.5 285.6L398.0 285.4L399.5 285.2L401.0 285.5L402.5 285.6L404.0 285.1L405.5 284.5L407.0 284.5L408.5 285.3L410.0 286.0L411.5 286.3L413.0 286.2L414.5 286.2L416.0 286.2L417.5 286.2L419.0 286.0L420.5 285.7L422.0 285.4L423.5 285.4L425.0 285.5L426.5 285.6L428.0 285.3L429.5 285.0L431.0 285.0L432.5 285.1L434.0 285.1L435.5 285.0L437.0 285.2L438.5 285.9L440.0 286.2L441.5 286.0L443.0 285.5L444.5 285.2L446.0 285.2L447.5 285.4L449.0 285.6L450.5 285.6L452.0 285.6L453.5 285.7L455.0 285.8L456.5 285.9L458.0 286.0L459.5 286.0L461.0 285.8L462.5 285.5L464.0 285.2L465.5 285.3L467.0 285.8L468.5 286.3L470.0 286.4L471.5 286.2L473.0 286.1L474.5 286.3L476.0 286.5L477.5 286.6L479.0 286.7L480.5 286.8L482.0 286.9L483.5 286.7L485.0 286.1L486.5 285.6L488.0 285.5L489.5 285.6L491.0 285.6L492.5 285.5L494.0 285.4L495.5 285.6L497.0 285.8L498.5 285.7L500.0 285.5L501.5 285.1L503.0 284.8L504.5 285.2L506.0 285.8L507.5 286.0L509.0 285.8L510.5 285.5L512.0 285.3L513.5 285.3L515.0 285.4L516.5 285.6L518.0 285.8L519.5 285.6L521.0 285.4L522.5 285.7L524.0 286.2L525.5 286.4L527.0 286.2L528.5 286.2L530.0 286.3L531.5 286.4L533.0 286.4L534.5 286.3L536.0 286.1L537.5 286.0L539.0 285.9L540.5 285.6L542.0 285.4L543.5 285.4L545.0 285.5L546.5 285.7L548.0 285.6L549.5 285.5L551.0 285.6L552.5 285.9L554.0 286.0L555.5 285.9L557.0 285.8L558.5 286.0L560.0 286.3L561.5 286.6L563.0 286.6L564.5 286.3L566.0 285.9L567.5 285.8L569.0 285.8L570.5 285.7L572.0 285.5L573.5 285.5L575.0 285.6L576.5 285.6L578.0 285.9L579.5 286.2L581.0 286.4L582.5 286.4L584.0 286.2L585.5 286.2L587.0 286.4L588.5 286.7L590.0 286.8L591.5 286.7L593.0 286.8L594.5 287.0L596.0 286.9L597.5 286.5L599.0 286.3L600.5 286.2L602.0 286.1L603.5 286.2L605.0 286.5L606.5 286.3L608.0 285.9L609.5 285.7L611.0 285.8L612.5 285.9L614.0 286.1L615.5 286.2L617.0 286.2L618.5 286.0L620.0 285.9L621.5 285.9L623.0 285.7L624.5 285.5L626.0 285.5L627.5 285.8L629.0 286.2L630.5 286.6L632.0 286.9L633.5 286.8L635.0 286.4L636.5 286.4L638.0 286.7L639.5 286.9L641.0 286.8L642.5 286.5L644.0 286.2L645.5 286.3L647.0 286.5L648.5 286.6L650.0 286.5L651.5 286.3L653.0 286.3L654.5 286.4L656.0 286.3L657.5 286.2L659.0 286.2L660.5 286.0L662.0 285.7L663.5 285.4L665.0 285.2L666.5 285.1L668.0 285.4L669.5 285.8L671.0 286.1L672.5 286.0L674.0 286.0L675.5 286.1L677.0 286.3L678.5 286.2L680.0 286.3L681.5 286.9L683.0 287.5L684.5 287.6L686.0 287.3L687.5 286.9L689.0 286.8L690.5 287.2L692.0 287.6L693.5 287.7L695.0 287.6L696.5 287.6L698.0 287.9L699.5 287.8L701.0 287.7L702.5 287.8L704.0 288.1L705.5 288.4L707.0 288.5L708.5 288.1L710.0 287.5L711.5 287.1L713.0 286.8L714.5 286.7L716.0 287.0L717.5 287.4L719.0 287.9L720.5 288.6L722.0 289.0L723.5 289.1L725.0 288.6L726.5 287.8L728.0 287.2L729.5 287.0L731.0 287.1L732.5 287.0L734.0 287.0L735.5 287.3L737.0 287.7L738.5 287.9L740.0 287.9L741.5 287.8L743.0 287.6L744.5 287.4L746.0 287.4L747.5 287.6L749.0 287.7L750.5 287.7L752.0 287.6L753.5 287.7L755.0 287.7L756.5 287.6L758.0 287.8L759.5 288.2L761.0 288.5L762.5 288.3L764.0 287.8L765.5 287.2L767.0 286.9L768.5 286.7L770.0 286.9L771.5 287.5L773.0 287.9L774.5 287.9L776.0 287.9L777.5 287.7L779.0 287.4L780.5 287.3L782.0 287.6L783.5 287.9L785.0 288.0L786.5 287.9L788.0 287.8L789.5 287.9L791.0 288.0L792.5 288.2L794.0 288.2L795.5 288.3L797.0 288.7L798.8 290.3L800.6 291.9L802.4 293.6L804.0 295.6L805.0 297.2L805.9 299.0L806.8 301.0L807.6 303.0L808.4 305.0L809.2 306.9L810.0 308.6L811.2 311.1L812.3 313.7L813.4 315.8L814.4 316.5L814.9 316.0L815.4 314.7L815.9 312.8L816.3 310.5L816.6 307.8L817.0 305.1L817.3 302.3L817.5 299.7L817.8 297.4L818.0 295.2L818.2 293.1L818.4 291.1L818.5 289.0L818.6 286.9L818.7 284.8L818.9 282.5L819.0 280.0L819.1 278.3L819.2 276.4L819.3 274.6L819.4 272.6L819.5 270.6L819.6 268.6L819.7 266.5L819.8 264.4L820.0 262.3L820.1 260.1L820.2 257.9L820.3 255.7L820.4 253.6L820.6 251.4L820.7 249.2L820.9 247.1L821.0 245.0L821.2 242.8L821.3 240.5L821.5 238.0L821.7 235.3L821.8 232.6L822.0 229.8L822.2 227.0L822.4 224.3L822.6 221.6L822.8 219.1L823.0 216.7L823.2 214.5L823.4 212.5L823.6 210.8L823.8 209.4L824.0 208.4L824.1 207.7L824.3 207.5L824.5 207.7L824.6 208.4L824.8 209.4L825.0 210.8L825.1 212.5L825.3 214.5L825.4 216.7L825.6 219.1L825.7 221.6L825.9 224.3L826.0 227.0L826.2 229.8L826.3 232.6L826.5 235.3L826.6 238.0L826.7 240.5L826.9 242.8L827.0 245.0L827.1 247.1L827.2 249.3L827.3 251.5L827.4 253.7L827.4 255.9L827.5 258.1L827.6 260.4L827.6 262.6L827.7 264.7L827.8 266.9L827.8 269.0L827.9 271.0L828.0 273.0L828.2 274.9L828.3 276.7L828.5 278.4L828.7 280.0L829.1 282.5L829.7 284.8L830.2 286.8L830.8 288.8L831.3 290.8L831.7 293.0L832.0 295.1L832.2 297.3L832.3 299.6L832.4 301.8L832.5 304.0L832.7 306.1L833.0 308.0L833.4 310.5L833.8 312.9L834.4 315.1L835.5 317.0L837.0 318.4L838.9 319.5L841.1 320.5L843.4 321.5L845.6 322.5L847.3 323.4L849.0 324.3L850.8 325.3L852.6 326.2L854.4 327.1L856.2 328.1L858.0 329.0" stroke="#6ccbe0" stroke-width="9.0"/>
<path d="M104.0 254.8L106.2 255.7L108.4 256.7L110.6 257.6L112.8 258.5L115.0 259.3L117.3 260.0L119.7 260.7L122.1 261.3L124.4 261.8L126.6 262.3L129.2 262.8L131.7 263.2L134.0 263.6L136.8 264.1L139.4 265.0L141.6 266.5L143.5 268.5L144.7 270.1L145.7 271.9L146.8 274.0L147.5 275.6L148.1 277.4L148.8 279.4L149.5 281.5L150.1 283.6L150.8 285.7L151.4 287.7L152.0 289.5L152.7 291.6L153.3 293.6L154.0 295.5L154.7 297.3L155.5 299.0L156.8 301.1L158.2 302.9L160.0 304.5L162.0 305.6L164.3 306.4L166.8 307.1L169.5 307.6L171.5 307.9L173.6 308.1L175.9 308.1L178.1 308.2L180.5 308.2L182.8 308.2L185.0 308.3L186.5 308.4L188.0 308.4L189.5 308.4L191.0 308.4L192.5 308.3L194.0 308.2L195.5 308.0L197.0 307.6L198.5 307.6L200.0 308.2L201.5 308.9L203.0 309.3L204.5 309.2L206.0 309.0L207.5 308.6L209.0 308.4L210.5 308.4L212.0 308.5L213.5 308.6L215.0 308.7L216.5 308.6L218.0 308.3L219.5 307.9L221.0 307.9L222.5 308.2L224.0 308.5L225.5 308.8L227.0 309.0L228.5 308.9L230.0 308.7L231.5 308.7L233.0 308.8L234.5 308.7L236.0 308.3L237.5 307.9L239.0 307.9L240.5 308.3L242.0 308.8L243.5 309.2L245.0 309.4L246.5 309.5L248.0 309.6L249.5 309.7L251.0 309.4L252.5 308.9L254.0 308.7L255.5 309.0L257.0 309.5L258.5 309.7L260.0 309.8L261.5 309.9L263.0 309.8L264.5 309.6L266.0 309.3L267.5 308.9L269.0 308.6L270.5 308.4L272.0 308.2L273.5 308.2L275.0 308.4L276.5 308.5L278.0 308.5L279.5 308.6L281.0 308.4L282.5 308.4L284.0 308.6L285.5 308.9L287.0 308.9L288.5 308.6L290.0 308.4L291.5 308.8L293.0 309.2L294.5 309.4L296.0 309.5L297.5 309.8L299.0 310.2L300.5 310.6L302.0 310.7L303.5 310.7L305.0 310.6L306.5 310.5L308.0 310.5L309.5 310.5L311.0 310.5L312.5 310.3L314.0 309.9L315.5 309.9L317.0 310.4L318.5 310.8L320.0 310.8L321.5 310.4L323.0 310.0L324.5 310.0L326.0 310.1L327.5 310.3L329.0 310.6L330.5 311.1L332.0 311.3L333.5 311.3L335.0 311.3L336.5 311.6L338.0 311.9L339.5 311.7L341.0 311.2L342.5 310.7L344.0 310.7L345.5 311.0L347.0 311.3L348.5 311.4L350.0 311.4L351.5 311.2L353.0 310.8L354.5 310.2L356.0 310.0L357.5 310.3L359.0 310.7L360.5 311.1L362.0 310.9L363.5 310.4L365.0 310.0L366.5 309.9L368.0 309.9L369.5 310.1L371.0 310.4L372.5 310.8L374.0 311.0L375.5 311.0L377.0 310.6L378.5 310.3L380.0 310.3L381.5 310.3L383.0 310.3L384.5 310.4L386.0 310.6L387.5 310.6L389.0 310.6L390.5 310.7L392.0 310.6L393.5 310.5L395.0 310.6L396.5 310.9L398.0 311.1L399.5 310.9L401.0 310.7L402.5 310.7L404.0 310.7L405.5 310.7L407.0 310.6L408.5 310.5L410.0 310.5L411.5 310.8L413.0 311.4L414.5 311.6L416.0 311.5L417.5 311.2L419.0 311.2L420.5 311.3L422.0 311.3L423.5 311.2L425.0 311.4L426.5 311.8L428.0 312.0L429.5 312.1L431.0 312.0L432.5 311.9L434.0 311.9L435.5 311.9L437.0 311.8L438.5 311.7L440.0 311.6L441.5 311.4L443.0 311.4L444.5 311.5L446.0 311.6L447.5 311.5L449.0 311.2L450.5 311.0L452.0 311.0L453.5 311.0L455.0 310.9L456.5 310.7L458.0 310.5L459.5 310.6L461.0 310.6L462.5 310.7L464.0 310.8L465.5 310.6L467.0 310.5L468.5 310.7L470.0 311.0L471.5 311.2L473.0 311.1L474.5 310.9L476.0 310.5L477.5 310.3L479.0 310.5L480.5 311.1L482.0 311.5L483.5 311.4L485.0 310.9L486.5 310.5L488.0 310.4L489.5 310.5L491.0 310.5L492.5 310.5L494.0 310.6L495.5 310.9L497.0 311.2L498.5 311.3L500.0 311.1L501.5 310.7L503.0 310.4L504.5 310.4L506.0 310.6L507.5 310.8L509.0 310.9L510.5 310.9L512.0 310.6L513.5 310.4L515.0 310.4L516.5 310.6L518.0 311.0L519.5 311.3L521.0 311.5L522.5 311.7L524.0 311.8L525.5 311.8L527.0 311.7L528.5 311.6L530.0 311.6L531.5 311.5L533.0 311.4L534.5 311.3L536.0 311.5L537.5 311.9L539.0 312.4L540.5 312.7L542.0 312.8L543.5 312.8L545.0 312.7L546.5 312.6L548.0 312.4L549.5 312.0L551.0 312.0L552.5 312.0L554.0 312.0L555.5 312.1L557.0 312.6L558.5 312.8L560.0 312.7L561.5 312.5L563.0 312.3L564.5 312.1L566.0 312.1L567.5 312.3L569.0 312.3L570.5 312.1L572.0 312.1L573.5 312.2L575.0 312.2L576.5 312.0L578.0 311.8L579.5 311.8L581.0 311.8L582.5 312.0L584.0 312.2L585.5 312.4L587.0 312.4L588.5 312.0L590.0 311.7L591.5 311.6L593.0 311.5L594.5 311.5L596.0 311.5L597.5 311.4L599.0 311.4L600.5 311.5L602.0 311.4L603.5 311.2L605.0 311.2L606.5 311.3L608.0 311.3L609.5 311.3L611.0 311.4L612.5 311.4L614.0 311.5L615.5 311.8L617.0 312.0L618.5 312.1L620.0 312.5L621.5 312.7L623.0 312.5L624.5 312.0L626.0 311.8L627.5 311.8L629.0 312.0L630.5 312.2L632.0 312.4L633.5 312.6L635.0 312.5L636.5 312.4L638.0 312.4L639.5 312.3L641.0 312.1L642.5 312.1L644.0 312.4L645.5 312.9L647.0 313.4L648.5 313.4L650.0 313.3L651.5 313.2L653.0 313.1L654.5 313.0L656.0 313.0L657.5 313.3L659.0 313.7L660.5 313.7L662.0 313.4L663.5 312.9L665.0 312.6L666.5 312.7L668.0 313.0L669.5 313.3L671.0 313.6L672.5 313.8L674.0 313.9L675.5 313.8L677.0 313.7L678.5 313.7L680.0 313.6L681.5 313.6L683.0 313.6L684.5 313.4L686.0 313.0L687.5 312.7L689.0 312.9L690.5 313.4L692.0 313.7L693.5 313.9L695.0 314.0L696.5 313.8L698.0 313.5L699.5 313.2L701.0 313.3L702.5 313.4L704.0 313.6L705.5 313.8L707.0 313.9L708.5 314.0L710.0 313.9L711.5 313.5L713.0 312.8L714.5 312.4L716.0 312.3L717.5 312.4L719.0 312.5L720.5 312.7L722.0 312.6L723.5 312.3L725.0 312.2L726.5 312.2L728.0 312.2L729.5 312.3L731.0 312.5L732.5 312.9L734.0 313.2L735.5 313.5L737.0 313.7L738.5 313.7L740.0 313.5L741.5 313.4L743.0 313.3L744.5 313.2L746.0 313.0L747.5 312.9L749.0 313.1L750.5 313.4L752.0 313.5L753.5 313.2L755.0 313.1L756.5 313.2L758.0 313.2L759.5 313.5L761.0 314.1L762.5 314.6L764.0 314.7L765.5 314.5L767.0 314.1L768.5 313.8L770.0 313.7L771.5 313.5L773.0 313.5L774.5 313.4L776.0 313.1L777.5 312.7L779.0 312.8L780.5 313.5L782.0 314.1L783.5 314.2L785.0 313.8L786.5 313.6L788.0 313.8L789.5 314.0L791.0 314.1L792.5 314.1L794.0 314.0L795.5 313.9L797.0 314.7L798.4 316.4L799.8 318.1L801.0 320.0L801.8 321.7L802.5 323.6L803.2 325.6L803.8 327.7L804.4 330.0L804.8 331.7L805.3 333.5L805.7 335.5L806.1 337.5L806.5 339.6L806.9 341.7L807.3 343.8L807.8 345.9L808.2 348.0L808.6 350.0L809.0 352.0L809.5 354.0L809.9 356.0L810.4 358.0L810.8 360.0L811.3 362.0L811.7 364.0L812.1 366.0L812.6 368.0L813.0 370.0L813.4 372.0L813.8 374.1L814.2 376.3L814.6 378.4L814.9 380.5L815.3 382.6L815.7 384.6L816.1 386.5L816.5 388.3L817.0 390.0L817.8 392.9L818.7 395.9L819.6 398.1L820.5 399.0L821.4 398.1L822.4 395.9L823.2 393.0L824.0 390.0L824.3 388.3L824.6 386.5L824.9 384.6L825.1 382.6L825.3 380.5L825.4 378.4L825.6 376.3L825.7 374.1L825.8 372.0L826.0 370.0L826.2 368.0L826.3 366.0L826.5 364.0L826.7 362.0L826.8 360.0L827.0 358.0L827.1 356.0L827.3 354.0L827.4 352.0L827.5 350.0L827.6 348.0L827.7 346.0L827.8 344.0L827.8 342.0L827.9 339.9L827.9 337.9L828.0 335.9L828.1 333.9L828.1 332.0L828.2 330.0L828.3 327.9L828.3 325.8L828.4 323.7L828.4 321.5L828.5 319.4L828.5 317.4L828.6 315.5L828.8 313.7L829.0 312.0L829.3 309.6L829.7 307.5L830.2 305.6L831.0 304.0L832.6 302.2L834.5 301.3L837.1 301.8L840.0 303.0L841.9 303.9L843.8 305.0L846.0 306.0L847.7 306.7L849.7 307.3L851.7 308.0L853.8 308.7L855.9 309.3L858.0 310.0" stroke="#c9aad3" stroke-width="9.0"/>
</g>
<rect x="106.1" y="9.7" width="748.9" height="598.0" fill="none" stroke="#0f3d6b" stroke-width="4"/>
<g font-family="'Liberation Sans', sans-serif" font-weight="bold" font-size="24.9" fill="#0f3d6b">
<text x="91.6" y="18.0" text-anchor="end">250</text>
<text x="91.6" y="79.9" text-anchor="end">200</text>
<text x="91.6" y="137.8" text-anchor="end">150</text>
<text x="91.6" y="196.8" text-anchor="end">100</text>
<text x="91.6" y="258.7" text-anchor="end">50</text>
<text x="91.6" y="316.8" text-anchor="end">0</text>
<text x="91.6" y="374.9" text-anchor="end">–50</text>
<text x="91.6" y="438.0" text-anchor="end">–100</text>
<text x="91.6" y="495.7" text-anchor="end">–150</text>
<text x="91.6" y="549.7" text-anchor="end">–200</text>
<text x="91.6" y="615.9" text-anchor="end">–250</text>
<text x="104.3" y="638.8" text-anchor="middle">–0</text>
<text x="167.1" y="638.8" text-anchor="middle">1.5</text>
<text x="230.4" y="638.8" text-anchor="middle">3</text>
<text x="292.7" y="638.8" text-anchor="middle">4.5</text>
<text x="355.0" y="638.8" text-anchor="middle">6</text>
<text x="417.6" y="638.8" text-anchor="middle">7.5</text>
<text x="479.6" y="638.8" text-anchor="middle">9</text>
<text x="543.2" y="638.8" text-anchor="middle">10.5</text>
<text x="605.9" y="638.8" text-anchor="middle">12</text>
<text x="668.1" y="638.8" text-anchor="middle">13.5</text>
<text x="730.1" y="638.8" text-anchor="middle">15</text>
<text x="792.8" y="638.8" text-anchor="middle">16.5</text>
<text x="856.3" y="638.8" text-anchor="middle">18</text>
<text x="438.6" y="683.8">V<tspan font-size="18.3" dy="5.7" letter-spacing="0.8">CM</tspan><tspan dy="-5.7" x="494.0" letter-spacing="-1.7">(V)</tspan></text>
<text transform="translate(18.2 354.2) rotate(-90)">V<tspan font-size="18.3" dy="6.4">OS</tspan><tspan dy="-6.4" letter-spacing="-0.9"> (µV)</tspan></text>
<text x="733.4" y="61.7" text-anchor="middle" font-size="24.7">ADA4661</text>
<text x="674.5" y="86.2" font-size="24.9">V<tspan font-size="18.3" dy="5.8">SY</tspan><tspan dy="-5.8" dx="0.4"> = 18 V</tspan></text>
</g>
<text x="685" y="681" font-family="'Liberation Sans', sans-serif" font-size="19.3" fill="#b7e1b2">www.cntronics.com</text>
</svg>
</body></html>
